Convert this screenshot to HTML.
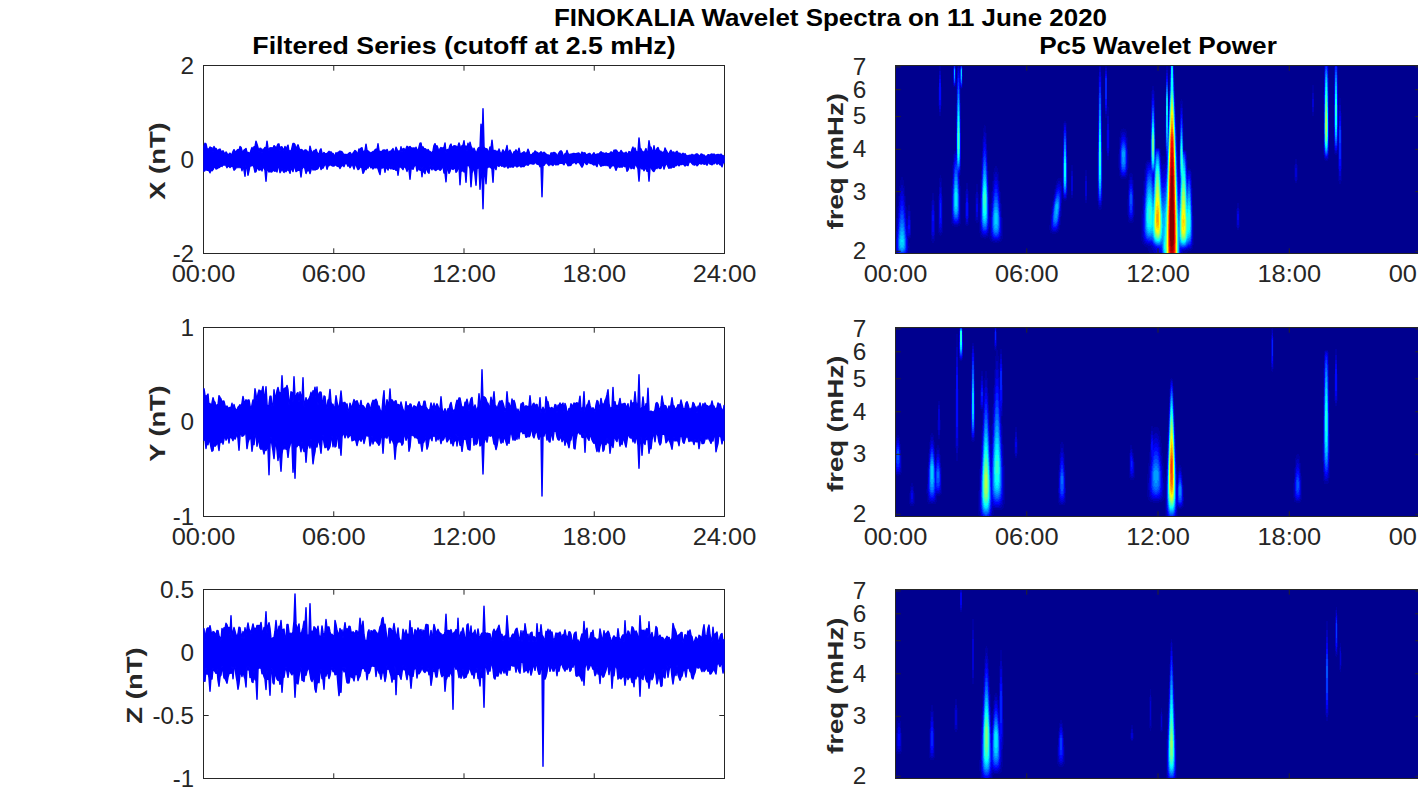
<!DOCTYPE html>
<html><head><meta charset="utf-8"><title>FINOKALIA Wavelet Spectra</title>
<style>html,body{margin:0;padding:0;background:#fff;overflow:hidden;}svg{display:block;font-family:"Liberation Sans",sans-serif;}</style>
</head><body>
<svg width="1418" height="788" viewBox="0 0 1418 788">
<rect width="1418" height="788" fill="#fff"/>
<rect x="896" y="66" width="524" height="188" fill="rgb(0, 0, 143)"/>
<path fill="#0000a1" d="M896 218h1v36h-1zM897 207h1v47h-1zM898 196h1v58h-1zM899 186h1v68h-1zM900 180h1v74h-1zM901 177h1v77h-1zM902 177h1v77h-1zM903 180h1v74h-1zM904 186h1v68h-1zM905 196h1v58h-1zM906 207h1v47h-1zM907 210h1v44h-1zM908 205h1v49h-1zM909 205h1v34h-1zM909 243h1v10h-1zM910 211h1v27h-1zM931 201h1v40h-1zM932 193h1v50h-1zM933 193h1v50h-1zM934 201h1v40h-1zM938 87h1v19h-1zM938 196h1v37h-1zM939 66h1v50h-1zM939 178h1v57h-1zM940 66h1v50h-1zM940 175h1v61h-1zM941 87h1v19h-1zM941 178h1v57h-1zM942 196h1v37h-1zM951 186h1v38h-1zM952 165h1v61h-1zM953 66h1v21h-1zM953 154h1v72h-1zM954 66h1v21h-1zM954 151h1v76h-1zM955 66h1v21h-1zM955 151h1v76h-1zM956 79h1v148h-1zM957 66h1v161h-1zM958 66h1v160h-1zM959 66h1v160h-1zM960 66h1v109h-1zM960 186h1v38h-1zM961 66h1v23h-1zM962 66h1v22h-1zM965 191h1v34h-1zM966 183h1v43h-1zM967 183h1v43h-1zM968 191h1v34h-1zM975 194h1v27h-1zM976 184h1v39h-1zM977 184h1v39h-1zM978 194h1v28h-1zM979 203h1v30h-1zM980 179h1v58h-1zM981 158h1v80h-1zM982 139h1v99h-1zM983 128h1v110h-1zM984 125h1v114h-1zM985 126h1v113h-1zM986 133h1v105h-1zM987 150h1v88h-1zM988 171h1v66h-1zM989 192h1v47h-1zM990 204h1v37h-1zM991 192h1v50h-1zM992 181h1v61h-1zM993 172h1v71h-1zM994 168h1v75h-1zM995 166h1v77h-1zM996 166h1v77h-1zM997 168h1v75h-1zM998 172h1v71h-1zM999 181h1v61h-1zM1000 192h1v50h-1zM1001 204h1v37h-1zM1002 218h1v21h-1zM1049 225h1v5h-1zM1050 215h1v18h-1zM1051 207h1v26h-1zM1052 201h1v33h-1zM1053 195h1v39h-1zM1054 189h1v45h-1zM1055 185h1v49h-1zM1056 181h1v52h-1zM1057 179h1v54h-1zM1058 178h1v54h-1zM1059 178h1v52h-1zM1060 178h1v47h-1zM1061 178h1v38h-1zM1062 156h1v43h-1zM1063 123h1v77h-1zM1064 121h1v80h-1zM1065 121h1v80h-1zM1066 123h1v77h-1zM1067 156h1v39h-1zM1071 165h1v33h-1zM1072 165h1v33h-1zM1085 170h1v33h-1zM1086 170h1v33h-1zM1097 149h1v52h-1zM1098 76h1v133h-1zM1099 66h1v144h-1zM1100 66h1v144h-1zM1101 76h1v133h-1zM1102 149h1v52h-1zM1105 66h1v52h-1zM1106 66h1v52h-1zM1106 130h1v21h-1zM1107 106h1v54h-1zM1108 107h1v53h-1zM1109 130h1v21h-1zM1118 154h1v14h-1zM1119 137h1v39h-1zM1120 131h1v47h-1zM1121 129h1v50h-1zM1122 129h1v50h-1zM1123 128h1v51h-1zM1124 129h1v50h-1zM1125 129h1v50h-1zM1126 131h1v47h-1zM1127 137h1v39h-1zM1127 199h1v16h-1zM1128 154h1v14h-1zM1128 180h1v42h-1zM1129 174h1v49h-1zM1130 173h1v50h-1zM1131 173h1v50h-1zM1132 174h1v49h-1zM1133 180h1v42h-1zM1134 199h1v16h-1zM1141 211h1v30h-1zM1142 195h1v49h-1zM1143 181h1v64h-1zM1144 169h1v77h-1zM1145 163h1v84h-1zM1146 161h1v86h-1zM1147 160h1v88h-1zM1148 160h1v91h-1zM1149 160h1v94h-1zM1150 120h1v134h-1zM1151 91h1v163h-1zM1152 86h1v168h-1zM1153 86h1v168h-1zM1154 91h1v163h-1zM1155 120h1v134h-1zM1156 148h1v106h-1zM1157 148h1v106h-1zM1158 148h1v106h-1zM1159 148h1v106h-1zM1160 149h1v105h-1zM1161 155h1v99h-1zM1162 156h1v98h-1zM1163 156h1v98h-1zM1164 156h1v98h-1zM1165 92h1v162h-1zM1166 66h1v188h-1zM1167 66h1v188h-1zM1168 91h1v163h-1zM1169 75h1v179h-1zM1170 66h1v188h-1zM1171 66h1v188h-1zM1172 66h1v188h-1zM1173 66h1v188h-1zM1174 75h1v179h-1zM1175 97h1v157h-1zM1176 117h1v137h-1zM1177 137h1v117h-1zM1178 156h1v98h-1zM1179 123h1v131h-1zM1180 101h1v153h-1zM1181 99h1v155h-1zM1182 101h1v153h-1zM1183 123h1v131h-1zM1184 150h1v104h-1zM1185 150h1v104h-1zM1186 151h1v103h-1zM1187 160h1v92h-1zM1188 168h1v83h-1zM1189 168h1v83h-1zM1190 169h1v82h-1zM1191 172h1v78h-1zM1192 188h1v61h-1zM1193 216h1v29h-1zM1236 209h1v18h-1zM1237 203h1v27h-1zM1238 203h1v27h-1zM1239 209h1v18h-1zM1294 165h1v15h-1zM1295 159h1v24h-1zM1296 159h1v24h-1zM1297 165h1v15h-1zM1312 85h1v31h-1zM1313 85h1v31h-1zM1323 92h1v63h-1zM1324 66h1v94h-1zM1325 66h1v95h-1zM1326 66h1v95h-1zM1327 66h1v95h-1zM1328 66h1v93h-1zM1334 66h1v88h-1zM1335 66h1v89h-1zM1336 66h1v89h-1zM1337 66h1v88h-1zM1338 110h1v71h-1zM1339 98h1v86h-1zM1340 98h1v86h-1zM1341 113h1v68h-1z"/>
<path fill="#0000ba" d="M896 231h1v23h-1zM897 218h1v36h-1zM898 206h1v48h-1zM899 196h1v58h-1zM900 188h1v66h-1zM901 185h1v69h-1zM902 185h1v69h-1zM903 188h1v66h-1zM904 196h1v58h-1zM905 206h1v48h-1zM906 218h1v36h-1zM907 219h1v35h-1zM908 211h1v27h-1zM908 246h1v2h-1zM909 211h1v26h-1zM910 220h1v15h-1zM931 211h1v24h-1zM932 200h1v39h-1zM933 200h1v39h-1zM934 211h1v24h-1zM939 71h1v41h-1zM939 187h1v45h-1zM940 71h1v41h-1zM940 182h1v51h-1zM941 187h1v45h-1zM952 179h1v44h-1zM953 66h1v19h-1zM953 162h1v62h-1zM954 66h1v20h-1zM954 154h1v71h-1zM955 66h1v19h-1zM955 153h1v72h-1zM956 103h1v122h-1zM957 68h1v157h-1zM958 66h1v158h-1zM959 68h1v108h-1zM959 179h1v44h-1zM960 66h1v22h-1zM960 103h1v67h-1zM961 66h1v22h-1zM962 68h1v16h-1zM965 203h1v15h-1zM966 189h1v35h-1zM967 189h1v35h-1zM968 203h1v15h-1zM976 192h1v28h-1zM977 192h1v28h-1zM980 194h1v37h-1zM981 171h1v64h-1zM982 151h1v85h-1zM983 136h1v101h-1zM984 132h1v105h-1zM985 133h1v104h-1zM986 144h1v92h-1zM987 163h1v73h-1zM988 185h1v48h-1zM989 216h1v11h-1zM990 217h1v19h-1zM991 203h1v36h-1zM992 191h1v50h-1zM993 181h1v60h-1zM994 174h1v67h-1zM995 172h1v70h-1zM996 172h1v70h-1zM997 174h1v67h-1zM998 181h1v60h-1zM999 191h1v50h-1zM1000 203h1v36h-1zM1001 217h1v19h-1zM1051 214h1v17h-1zM1052 206h1v26h-1zM1053 200h1v32h-1zM1054 194h1v38h-1zM1055 189h1v43h-1zM1056 185h1v47h-1zM1057 183h1v48h-1zM1058 181h1v48h-1zM1059 181h1v44h-1zM1060 182h1v35h-1zM1061 186h1v17h-1zM1063 131h1v67h-1zM1064 123h1v76h-1zM1065 123h1v76h-1zM1066 131h1v67h-1zM1071 171h1v24h-1zM1072 171h1v24h-1zM1085 176h1v24h-1zM1086 176h1v24h-1zM1098 95h1v110h-1zM1099 67h1v140h-1zM1100 67h1v140h-1zM1101 95h1v110h-1zM1105 68h1v46h-1zM1106 68h1v46h-1zM1107 116h1v40h-1zM1108 116h1v40h-1zM1119 149h1v21h-1zM1120 138h1v37h-1zM1121 133h1v44h-1zM1122 132h1v45h-1zM1123 132h1v45h-1zM1124 132h1v45h-1zM1125 133h1v44h-1zM1126 138h1v37h-1zM1127 149h1v21h-1zM1128 190h1v27h-1zM1129 180h1v40h-1zM1130 177h1v44h-1zM1131 177h1v44h-1zM1132 180h1v40h-1zM1133 190h1v27h-1zM1142 214h1v23h-1zM1143 196h1v46h-1zM1144 181h1v63h-1zM1145 170h1v74h-1zM1146 164h1v81h-1zM1147 162h1v83h-1zM1148 162h1v84h-1zM1149 162h1v84h-1zM1150 139h1v107h-1zM1151 100h1v148h-1zM1152 90h1v160h-1zM1153 90h1v162h-1zM1154 100h1v154h-1zM1155 139h1v115h-1zM1156 148h1v106h-1zM1157 148h1v106h-1zM1158 148h1v106h-1zM1159 149h1v105h-1zM1160 153h1v101h-1zM1161 163h1v91h-1zM1162 165h1v89h-1zM1163 164h1v90h-1zM1164 164h1v90h-1zM1165 116h1v31h-1zM1165 162h1v92h-1zM1166 70h1v184h-1zM1167 70h1v184h-1zM1168 104h1v150h-1zM1169 85h1v169h-1zM1170 66h1v188h-1zM1171 66h1v188h-1zM1172 66h1v188h-1zM1173 66h1v188h-1zM1174 85h1v169h-1zM1175 107h1v147h-1zM1176 129h1v125h-1zM1177 151h1v103h-1zM1178 169h1v85h-1zM1179 141h1v113h-1zM1180 108h1v146h-1zM1181 104h1v150h-1zM1182 108h1v145h-1zM1183 141h1v110h-1zM1184 150h1v101h-1zM1185 151h1v99h-1zM1186 155h1v95h-1zM1187 169h1v81h-1zM1188 170h1v80h-1zM1189 170h1v79h-1zM1190 171h1v78h-1zM1191 180h1v68h-1zM1192 205h1v40h-1zM1237 208h1v20h-1zM1238 208h1v20h-1zM1295 164h1v17h-1zM1296 164h1v17h-1zM1312 93h1v19h-1zM1313 93h1v19h-1zM1324 66h1v92h-1zM1325 66h1v93h-1zM1326 66h1v94h-1zM1327 66h1v93h-1zM1328 78h1v77h-1zM1334 67h1v83h-1zM1335 66h1v87h-1zM1336 66h1v87h-1zM1337 67h1v83h-1zM1338 129h1v40h-1zM1339 105h1v75h-1zM1340 105h1v75h-1zM1341 130h1v39h-1z"/>
<path fill="#0000d3" d="M896 239h1v12h-1zM897 226h1v28h-1zM898 213h1v41h-1zM899 202h1v52h-1zM900 194h1v60h-1zM901 191h1v63h-1zM902 191h1v63h-1zM903 194h1v60h-1zM904 202h1v52h-1zM905 213h1v41h-1zM906 226h1v28h-1zM907 226h1v10h-1zM907 239h1v12h-1zM908 216h1v20h-1zM909 216h1v19h-1zM932 205h1v31h-1zM933 205h1v31h-1zM939 75h1v34h-1zM939 194h1v34h-1zM940 75h1v34h-1zM940 188h1v42h-1zM941 194h1v34h-1zM952 188h1v31h-1zM953 68h1v15h-1zM953 168h1v55h-1zM954 66h1v20h-1zM954 158h1v66h-1zM955 68h1v15h-1zM955 155h1v69h-1zM956 119h1v105h-1zM957 73h1v151h-1zM958 68h1v155h-1zM959 73h1v100h-1zM959 188h1v31h-1zM960 66h1v20h-1zM960 119h1v47h-1zM961 66h1v21h-1zM962 75h1v2h-1zM966 194h1v28h-1zM967 194h1v28h-1zM976 198h1v19h-1zM977 198h1v19h-1zM980 208h1v16h-1zM981 180h1v52h-1zM982 158h1v76h-1zM983 142h1v93h-1zM984 137h1v98h-1zM985 139h1v96h-1zM986 151h1v84h-1zM987 171h1v62h-1zM988 194h1v35h-1zM991 211h1v25h-1zM992 198h1v41h-1zM993 187h1v53h-1zM994 180h1v60h-1zM995 177h1v63h-1zM996 177h1v63h-1zM997 180h1v60h-1zM998 187h1v53h-1zM999 198h1v41h-1zM1000 211h1v25h-1zM1051 219h1v9h-1zM1052 209h1v21h-1zM1053 202h1v29h-1zM1054 197h1v34h-1zM1055 192h1v39h-1zM1056 188h1v42h-1zM1057 185h1v44h-1zM1058 184h1v42h-1zM1059 184h1v37h-1zM1060 186h1v25h-1zM1063 138h1v57h-1zM1064 125h1v73h-1zM1065 125h1v73h-1zM1066 138h1v57h-1zM1071 176h1v15h-1zM1072 176h1v15h-1zM1085 181h1v15h-1zM1086 181h1v15h-1zM1098 110h1v91h-1zM1099 72h1v133h-1zM1100 72h1v133h-1zM1101 110h1v91h-1zM1105 71h1v40h-1zM1106 71h1v40h-1zM1107 124h1v29h-1zM1108 124h1v29h-1zM1120 143h1v29h-1zM1121 137h1v38h-1zM1122 135h1v41h-1zM1123 134h1v42h-1zM1124 135h1v41h-1zM1125 137h1v38h-1zM1126 143h1v29h-1zM1129 184h1v34h-1zM1130 180h1v39h-1zM1131 180h1v39h-1zM1132 184h1v34h-1zM1143 206h1v32h-1zM1144 190h1v51h-1zM1145 177h1v66h-1zM1146 168h1v75h-1zM1147 165h1v79h-1zM1148 164h1v80h-1zM1149 163h1v81h-1zM1150 162h1v83h-1zM1151 107h1v138h-1zM1152 94h1v152h-1zM1153 94h1v154h-1zM1154 107h1v142h-1zM1155 149h1v101h-1zM1156 149h1v103h-1zM1157 149h1v104h-1zM1158 149h1v105h-1zM1159 150h1v104h-1zM1160 157h1v97h-1zM1161 169h1v85h-1zM1162 172h1v82h-1zM1163 171h1v83h-1zM1164 170h1v84h-1zM1165 168h1v86h-1zM1166 73h1v181h-1zM1167 73h1v181h-1zM1168 111h1v143h-1zM1169 91h1v163h-1zM1170 66h1v188h-1zM1171 66h1v188h-1zM1172 66h1v188h-1zM1173 66h1v188h-1zM1174 91h1v163h-1zM1175 114h1v140h-1zM1176 136h1v118h-1zM1177 160h1v94h-1zM1178 177h1v77h-1zM1179 156h1v98h-1zM1180 114h1v140h-1zM1181 108h1v144h-1zM1182 114h1v136h-1zM1183 150h1v100h-1zM1184 151h1v99h-1zM1185 152h1v98h-1zM1186 161h1v88h-1zM1187 173h1v76h-1zM1188 171h1v77h-1zM1189 171h1v77h-1zM1190 174h1v74h-1zM1191 188h1v58h-1zM1192 216h1v23h-1zM1237 211h1v14h-1zM1238 211h1v14h-1zM1295 168h1v9h-1zM1296 168h1v9h-1zM1312 99h1v8h-1zM1313 99h1v8h-1zM1324 72h1v83h-1zM1325 66h1v92h-1zM1326 66h1v92h-1zM1327 66h1v92h-1zM1328 93h1v58h-1zM1334 75h1v71h-1zM1335 66h1v85h-1zM1336 66h1v85h-1zM1337 75h1v71h-1zM1339 111h1v65h-1zM1340 111h1v65h-1z"/>
<path fill="#0000ec" d="M897 232h1v20h-1zM898 219h1v35h-1zM899 208h1v46h-1zM900 200h1v54h-1zM901 196h1v58h-1zM902 196h1v58h-1zM903 200h1v54h-1zM904 208h1v46h-1zM905 219h1v35h-1zM906 232h1v20h-1zM908 220h1v13h-1zM909 220h1v13h-1zM932 210h1v22h-1zM933 210h1v22h-1zM939 79h1v26h-1zM939 200h1v24h-1zM940 79h1v26h-1zM940 193h1v34h-1zM941 200h1v24h-1zM952 196h1v19h-1zM953 69h1v11h-1zM953 174h1v47h-1zM954 66h1v19h-1zM954 162h1v61h-1zM955 69h1v11h-1zM955 158h1v65h-1zM956 133h1v90h-1zM957 78h1v145h-1zM958 71h1v150h-1zM959 78h1v94h-1zM959 196h1v19h-1zM960 67h1v18h-1zM960 133h1v26h-1zM961 66h1v21h-1zM966 198h1v21h-1zM967 198h1v21h-1zM976 204h1v8h-1zM977 204h1v8h-1zM981 186h1v44h-1zM982 164h1v69h-1zM983 148h1v86h-1zM984 142h1v92h-1zM985 144h1v90h-1zM986 157h1v76h-1zM987 177h1v54h-1zM988 204h1v20h-1zM991 217h1v16h-1zM992 203h1v34h-1zM993 192h1v46h-1zM994 184h1v55h-1zM995 181h1v58h-1zM996 181h1v58h-1zM997 184h1v55h-1zM998 192h1v46h-1zM999 203h1v34h-1zM1000 217h1v16h-1zM1052 213h1v16h-1zM1053 205h1v25h-1zM1054 199h1v31h-1zM1055 194h1v36h-1zM1056 190h1v39h-1zM1057 188h1v39h-1zM1058 187h1v37h-1zM1059 187h1v30h-1zM1060 191h1v15h-1zM1063 145h1v48h-1zM1064 127h1v70h-1zM1065 127h1v70h-1zM1066 145h1v48h-1zM1098 121h1v77h-1zM1099 77h1v126h-1zM1100 77h1v126h-1zM1101 121h1v77h-1zM1105 74h1v34h-1zM1106 74h1v34h-1zM1107 130h1v18h-1zM1108 130h1v18h-1zM1120 147h1v22h-1zM1121 140h1v33h-1zM1122 137h1v38h-1zM1123 137h1v38h-1zM1124 137h1v38h-1zM1125 140h1v33h-1zM1126 147h1v22h-1zM1129 188h1v27h-1zM1130 184h1v33h-1zM1131 184h1v33h-1zM1132 188h1v27h-1zM1143 218h1v13h-1zM1144 197h1v42h-1zM1145 183h1v58h-1zM1146 173h1v69h-1zM1147 168h1v75h-1zM1148 166h1v77h-1zM1149 165h1v78h-1zM1150 165h1v78h-1zM1151 113h1v131h-1zM1152 98h1v147h-1zM1153 98h1v148h-1zM1154 113h1v134h-1zM1155 150h1v98h-1zM1156 149h1v100h-1zM1157 149h1v100h-1zM1158 149h1v102h-1zM1159 151h1v101h-1zM1160 161h1v91h-1zM1161 174h1v80h-1zM1162 178h1v76h-1zM1163 177h1v77h-1zM1164 176h1v78h-1zM1165 174h1v80h-1zM1166 76h1v81h-1zM1166 165h1v89h-1zM1167 76h1v178h-1zM1168 117h1v137h-1zM1169 96h1v158h-1zM1170 66h1v188h-1zM1171 66h1v188h-1zM1172 66h1v188h-1zM1173 66h1v188h-1zM1174 96h1v158h-1zM1175 119h1v135h-1zM1176 142h1v112h-1zM1177 167h1v87h-1zM1178 184h1v70h-1zM1179 184h1v70h-1zM1180 119h1v135h-1zM1181 111h1v139h-1zM1182 119h1v130h-1zM1183 151h1v98h-1zM1184 152h1v97h-1zM1185 154h1v95h-1zM1186 166h1v82h-1zM1187 176h1v72h-1zM1188 174h1v73h-1zM1189 174h1v73h-1zM1190 178h1v68h-1zM1191 194h1v50h-1zM1237 214h1v6h-1zM1238 214h1v6h-1zM1324 79h1v74h-1zM1325 66h1v91h-1zM1326 66h1v91h-1zM1327 66h1v90h-1zM1328 108h1v39h-1zM1334 84h1v57h-1zM1335 66h1v84h-1zM1336 66h1v84h-1zM1337 84h1v57h-1zM1339 116h1v55h-1zM1340 116h1v55h-1z"/>
<path fill="#0006ff" d="M897 237h1v13h-1zM898 224h1v29h-1zM899 213h1v41h-1zM900 205h1v49h-1zM901 201h1v53h-1zM902 201h1v53h-1zM903 205h1v49h-1zM904 213h1v41h-1zM905 224h1v29h-1zM906 237h1v13h-1zM908 225h1v4h-1zM909 225h1v4h-1zM932 215h1v6h-1zM933 215h1v6h-1zM939 83h1v17h-1zM940 83h1v17h-1zM940 198h1v25h-1zM953 179h1v40h-1zM954 66h1v18h-1zM954 165h1v56h-1zM955 161h1v61h-1zM956 155h1v67h-1zM957 83h1v138h-1zM958 75h1v98h-1zM958 179h1v40h-1zM959 83h1v87h-1zM960 68h1v15h-1zM961 66h1v20h-1zM966 202h1v14h-1zM967 202h1v14h-1zM981 192h1v34h-1zM982 169h1v62h-1zM983 153h1v79h-1zM984 147h1v86h-1zM985 149h1v84h-1zM986 162h1v70h-1zM987 182h1v47h-1zM992 208h1v27h-1zM993 196h1v41h-1zM994 189h1v49h-1zM995 185h1v53h-1zM996 185h1v53h-1zM997 189h1v49h-1zM998 196h1v41h-1zM999 208h1v27h-1zM1052 216h1v10h-1zM1053 207h1v21h-1zM1054 201h1v27h-1zM1055 196h1v32h-1zM1056 192h1v36h-1zM1057 190h1v36h-1zM1058 189h1v33h-1zM1059 190h1v24h-1zM1063 151h1v40h-1zM1064 130h1v65h-1zM1065 130h1v65h-1zM1066 151h1v40h-1zM1098 132h1v62h-1zM1099 82h1v119h-1zM1100 82h1v119h-1zM1101 132h1v62h-1zM1105 76h1v29h-1zM1106 76h1v29h-1zM1120 151h1v12h-1zM1121 143h1v29h-1zM1122 140h1v33h-1zM1123 139h1v35h-1zM1124 140h1v33h-1zM1125 143h1v29h-1zM1126 151h1v12h-1zM1129 191h1v21h-1zM1130 186h1v29h-1zM1131 186h1v29h-1zM1132 191h1v21h-1zM1144 204h1v32h-1zM1145 188h1v51h-1zM1146 177h1v64h-1zM1147 171h1v70h-1zM1148 168h1v74h-1zM1149 168h1v74h-1zM1150 168h1v74h-1zM1151 119h1v123h-1zM1152 101h1v142h-1zM1153 101h1v73h-1zM1153 180h1v65h-1zM1154 119h1v127h-1zM1155 152h1v95h-1zM1156 150h1v97h-1zM1157 150h1v98h-1zM1158 150h1v98h-1zM1159 153h1v96h-1zM1160 165h1v85h-1zM1161 178h1v74h-1zM1162 183h1v71h-1zM1163 183h1v71h-1zM1164 182h1v72h-1zM1165 179h1v75h-1zM1166 79h1v75h-1zM1166 169h1v85h-1zM1167 79h1v175h-1zM1168 122h1v132h-1zM1169 99h1v155h-1zM1170 70h1v184h-1zM1171 66h1v188h-1zM1172 66h1v188h-1zM1173 70h1v184h-1zM1174 99h1v155h-1zM1175 123h1v131h-1zM1176 147h1v107h-1zM1177 172h1v82h-1zM1178 190h1v64h-1zM1179 189h1v65h-1zM1180 124h1v126h-1zM1181 115h1v134h-1zM1182 124h1v125h-1zM1183 152h1v97h-1zM1184 153h1v95h-1zM1185 156h1v92h-1zM1186 171h1v77h-1zM1187 179h1v68h-1zM1188 176h1v70h-1zM1189 176h1v70h-1zM1190 181h1v64h-1zM1191 200h1v42h-1zM1324 87h1v64h-1zM1325 66h1v90h-1zM1326 66h1v90h-1zM1327 68h1v87h-1zM1328 122h1v17h-1zM1334 94h1v42h-1zM1335 66h1v82h-1zM1336 66h1v82h-1zM1337 94h1v42h-1zM1339 121h1v45h-1zM1340 121h1v45h-1z"/>
<path fill="#001fff" d="M898 229h1v23h-1zM899 218h1v35h-1zM900 210h1v44h-1zM901 206h1v48h-1zM902 206h1v48h-1zM903 210h1v44h-1zM904 218h1v35h-1zM905 229h1v23h-1zM940 203h1v15h-1zM953 184h1v33h-1zM954 66h1v17h-1zM954 169h1v51h-1zM955 164h1v57h-1zM956 160h1v61h-1zM957 89h1v131h-1zM958 78h1v93h-1zM958 184h1v33h-1zM959 89h1v80h-1zM960 69h1v13h-1zM961 66h1v19h-1zM981 198h1v24h-1zM982 174h1v55h-1zM983 157h1v74h-1zM984 151h1v80h-1zM985 154h1v77h-1zM986 166h1v64h-1zM987 187h1v39h-1zM992 212h1v20h-1zM993 201h1v35h-1zM994 193h1v44h-1zM995 189h1v48h-1zM996 189h1v48h-1zM997 193h1v44h-1zM998 201h1v35h-1zM999 212h1v20h-1zM1053 209h1v18h-1zM1054 202h1v25h-1zM1055 198h1v29h-1zM1056 194h1v32h-1zM1057 192h1v32h-1zM1058 191h1v28h-1zM1059 193h1v18h-1zM1063 157h1v31h-1zM1064 133h1v61h-1zM1065 133h1v61h-1zM1066 157h1v31h-1zM1098 142h1v46h-1zM1099 87h1v113h-1zM1100 87h1v113h-1zM1101 142h1v46h-1zM1105 78h1v21h-1zM1106 78h1v21h-1zM1121 145h1v25h-1zM1122 142h1v30h-1zM1123 141h1v31h-1zM1124 142h1v30h-1zM1125 145h1v25h-1zM1129 195h1v11h-1zM1130 189h1v24h-1zM1131 189h1v24h-1zM1132 195h1v11h-1zM1144 210h1v22h-1zM1145 193h1v44h-1zM1146 181h1v58h-1zM1147 174h1v66h-1zM1148 171h1v70h-1zM1149 170h1v71h-1zM1150 170h1v71h-1zM1151 123h1v118h-1zM1152 105h1v68h-1zM1152 181h1v61h-1zM1153 105h1v67h-1zM1153 183h1v61h-1zM1154 123h1v122h-1zM1155 155h1v91h-1zM1156 151h1v95h-1zM1157 151h1v96h-1zM1158 151h1v96h-1zM1159 156h1v91h-1zM1160 169h1v79h-1zM1161 183h1v67h-1zM1162 188h1v66h-1zM1163 188h1v66h-1zM1164 187h1v67h-1zM1165 184h1v70h-1zM1166 82h1v69h-1zM1166 174h1v80h-1zM1167 82h1v172h-1zM1168 126h1v128h-1zM1169 102h1v152h-1zM1170 74h1v180h-1zM1171 66h1v188h-1zM1172 66h1v188h-1zM1173 74h1v180h-1zM1174 102h1v152h-1zM1175 127h1v127h-1zM1176 152h1v102h-1zM1177 177h1v77h-1zM1178 196h1v58h-1zM1179 194h1v60h-1zM1180 128h1v120h-1zM1181 118h1v130h-1zM1182 128h1v120h-1zM1183 152h1v96h-1zM1184 154h1v94h-1zM1185 159h1v88h-1zM1186 175h1v72h-1zM1187 183h1v63h-1zM1188 179h1v66h-1zM1189 179h1v66h-1zM1190 185h1v59h-1zM1191 206h1v33h-1zM1324 95h1v53h-1zM1325 67h1v88h-1zM1326 66h1v90h-1zM1327 71h1v83h-1zM1334 105h1v22h-1zM1335 67h1v79h-1zM1336 67h1v79h-1zM1337 105h1v22h-1zM1339 126h1v33h-1zM1340 126h1v33h-1z"/>
<path fill="#0038ff" d="M898 234h1v16h-1zM899 222h1v30h-1zM900 214h1v39h-1zM901 211h1v42h-1zM902 211h1v42h-1zM903 214h1v39h-1zM904 222h1v30h-1zM905 234h1v16h-1zM953 189h1v25h-1zM954 67h1v16h-1zM954 173h1v46h-1zM955 167h1v52h-1zM956 165h1v54h-1zM957 94h1v125h-1zM958 82h1v88h-1zM958 189h1v25h-1zM959 94h1v73h-1zM960 70h1v9h-1zM961 67h1v17h-1zM982 179h1v48h-1zM983 162h1v68h-1zM984 156h1v74h-1zM985 158h1v72h-1zM986 171h1v58h-1zM987 192h1v31h-1zM992 217h1v11h-1zM993 204h1v30h-1zM994 196h1v39h-1zM995 193h1v43h-1zM996 193h1v43h-1zM997 196h1v39h-1zM998 204h1v30h-1zM999 217h1v11h-1zM1053 212h1v13h-1zM1054 204h1v22h-1zM1055 199h1v27h-1zM1056 196h1v29h-1zM1057 194h1v28h-1zM1058 194h1v23h-1zM1059 197h1v11h-1zM1063 163h1v20h-1zM1064 136h1v57h-1zM1065 136h1v57h-1zM1066 163h1v20h-1zM1098 152h1v29h-1zM1099 93h1v105h-1zM1100 93h1v105h-1zM1101 152h1v29h-1zM1121 148h1v19h-1zM1122 144h1v26h-1zM1123 143h1v28h-1zM1124 144h1v26h-1zM1125 148h1v19h-1zM1130 192h1v18h-1zM1131 192h1v18h-1zM1145 198h1v37h-1zM1146 185h1v53h-1zM1147 177h1v62h-1zM1148 174h1v65h-1zM1149 173h1v67h-1zM1150 174h1v66h-1zM1151 128h1v40h-1zM1151 177h1v63h-1zM1152 108h1v63h-1zM1152 185h1v56h-1zM1153 108h1v63h-1zM1153 187h1v56h-1zM1154 128h1v116h-1zM1155 157h1v88h-1zM1156 152h1v94h-1zM1157 152h1v94h-1zM1158 152h1v94h-1zM1159 158h1v88h-1zM1160 172h1v74h-1zM1161 187h1v60h-1zM1162 193h1v61h-1zM1163 193h1v61h-1zM1164 192h1v62h-1zM1165 188h1v66h-1zM1166 85h1v64h-1zM1166 178h1v76h-1zM1167 85h1v169h-1zM1168 129h1v125h-1zM1169 106h1v148h-1zM1170 78h1v176h-1zM1171 66h1v188h-1zM1172 66h1v188h-1zM1173 78h1v176h-1zM1174 106h1v148h-1zM1175 130h1v124h-1zM1176 157h1v97h-1zM1177 182h1v72h-1zM1178 201h1v53h-1zM1179 199h1v55h-1zM1180 132h1v115h-1zM1181 121h1v126h-1zM1182 132h1v115h-1zM1183 154h1v93h-1zM1184 155h1v92h-1zM1185 162h1v85h-1zM1186 179h1v67h-1zM1187 186h1v59h-1zM1188 181h1v63h-1zM1189 181h1v63h-1zM1190 189h1v53h-1zM1191 212h1v24h-1zM1324 104h1v41h-1zM1325 69h1v85h-1zM1326 67h1v88h-1zM1327 74h1v79h-1zM1335 70h1v75h-1zM1336 70h1v75h-1zM1339 130h1v13h-1zM1340 130h1v13h-1z"/>
<path fill="#0051ff" d="M898 238h1v10h-1zM899 227h1v24h-1zM900 219h1v33h-1zM901 215h1v37h-1zM902 215h1v37h-1zM903 219h1v33h-1zM904 227h1v24h-1zM905 238h1v10h-1zM953 194h1v17h-1zM954 68h1v14h-1zM954 177h1v40h-1zM955 170h1v48h-1zM956 170h1v48h-1zM957 100h1v69h-1zM957 177h1v40h-1zM958 86h1v82h-1zM958 194h1v17h-1zM959 100h1v66h-1zM961 67h1v16h-1zM982 183h1v42h-1zM983 166h1v62h-1zM984 160h1v69h-1zM985 162h1v67h-1zM986 175h1v52h-1zM987 197h1v22h-1zM993 208h1v24h-1zM994 200h1v34h-1zM995 197h1v38h-1zM996 197h1v38h-1zM997 200h1v34h-1zM998 208h1v24h-1zM1053 215h1v7h-1zM1054 206h1v18h-1zM1055 201h1v23h-1zM1056 198h1v25h-1zM1057 196h1v25h-1zM1058 196h1v19h-1zM1064 139h1v53h-1zM1065 139h1v53h-1zM1099 98h1v98h-1zM1100 98h1v98h-1zM1121 150h1v14h-1zM1122 146h1v23h-1zM1123 145h1v24h-1zM1124 146h1v23h-1zM1125 150h1v14h-1zM1130 194h1v10h-1zM1131 194h1v10h-1zM1145 203h1v30h-1zM1146 189h1v47h-1zM1147 181h1v57h-1zM1148 177h1v61h-1zM1149 176h1v62h-1zM1150 177h1v62h-1zM1151 132h1v33h-1zM1151 181h1v58h-1zM1152 111h1v59h-1zM1152 188h1v52h-1zM1153 111h1v59h-1zM1153 191h1v51h-1zM1154 132h1v36h-1zM1154 177h1v66h-1zM1155 160h1v84h-1zM1156 154h1v91h-1zM1157 153h1v92h-1zM1158 154h1v91h-1zM1159 160h1v85h-1zM1160 175h1v70h-1zM1161 191h1v54h-1zM1162 198h1v53h-1zM1163 198h1v56h-1zM1164 196h1v58h-1zM1165 192h1v62h-1zM1166 87h1v59h-1zM1166 182h1v72h-1zM1167 87h1v64h-1zM1167 160h1v94h-1zM1168 133h1v121h-1zM1169 109h1v145h-1zM1170 82h1v172h-1zM1171 66h1v188h-1zM1172 66h1v188h-1zM1173 82h1v172h-1zM1174 109h1v145h-1zM1175 133h1v121h-1zM1176 161h1v93h-1zM1177 187h1v67h-1zM1178 206h1v48h-1zM1179 203h1v45h-1zM1180 136h1v42h-1zM1180 183h1v63h-1zM1181 125h1v121h-1zM1182 136h1v111h-1zM1183 155h1v92h-1zM1184 157h1v89h-1zM1185 165h1v81h-1zM1186 183h1v62h-1zM1187 189h1v55h-1zM1188 184h1v59h-1zM1189 184h1v58h-1zM1190 193h1v48h-1zM1191 220h1v10h-1zM1324 112h1v30h-1zM1325 71h1v82h-1zM1326 69h1v85h-1zM1327 78h1v73h-1zM1335 72h1v71h-1zM1336 72h1v71h-1z"/>
<path fill="#006aff" d="M899 231h1v19h-1zM900 223h1v28h-1zM901 220h1v32h-1zM902 220h1v32h-1zM903 223h1v28h-1zM904 231h1v19h-1zM954 68h1v13h-1zM954 181h1v34h-1zM955 174h1v43h-1zM956 174h1v43h-1zM957 105h1v61h-1zM957 181h1v34h-1zM958 90h1v77h-1zM959 105h1v59h-1zM961 68h1v15h-1zM982 187h1v36h-1zM983 170h1v57h-1zM984 164h1v63h-1zM985 166h1v61h-1zM986 179h1v46h-1zM993 211h1v19h-1zM994 203h1v30h-1zM995 200h1v33h-1zM996 200h1v33h-1zM997 203h1v30h-1zM998 211h1v19h-1zM1054 208h1v14h-1zM1055 202h1v21h-1zM1056 199h1v23h-1zM1057 198h1v21h-1zM1058 199h1v13h-1zM1064 142h1v48h-1zM1065 142h1v48h-1zM1099 104h1v90h-1zM1100 104h1v90h-1zM1122 148h1v19h-1zM1123 147h1v20h-1zM1124 148h1v19h-1zM1145 208h1v21h-1zM1146 194h1v40h-1zM1147 184h1v52h-1zM1148 180h1v57h-1zM1149 179h1v58h-1zM1150 180h1v57h-1zM1151 135h1v26h-1zM1151 184h1v53h-1zM1152 113h1v56h-1zM1152 192h1v46h-1zM1153 113h1v56h-1zM1153 194h1v47h-1zM1154 135h1v29h-1zM1154 180h1v63h-1zM1155 163h1v81h-1zM1156 155h1v89h-1zM1157 154h1v91h-1zM1158 155h1v90h-1zM1159 163h1v82h-1zM1160 179h1v65h-1zM1161 194h1v50h-1zM1162 202h1v46h-1zM1163 203h1v51h-1zM1164 201h1v53h-1zM1165 197h1v57h-1zM1166 89h1v54h-1zM1166 186h1v68h-1zM1167 89h1v57h-1zM1167 165h1v89h-1zM1168 136h1v118h-1zM1169 111h1v143h-1zM1170 87h1v167h-1zM1171 66h1v188h-1zM1172 66h1v188h-1zM1173 87h1v167h-1zM1174 111h1v143h-1zM1175 136h1v118h-1zM1176 165h1v89h-1zM1177 192h1v62h-1zM1178 210h1v44h-1zM1179 208h1v37h-1zM1180 139h1v36h-1zM1180 188h1v57h-1zM1181 128h1v118h-1zM1182 139h1v107h-1zM1183 157h1v89h-1zM1184 159h1v87h-1zM1185 168h1v77h-1zM1186 187h1v57h-1zM1187 193h1v50h-1zM1188 187h1v55h-1zM1189 188h1v53h-1zM1190 197h1v42h-1zM1324 123h1v11h-1zM1325 74h1v78h-1zM1326 70h1v83h-1zM1327 82h1v68h-1zM1335 75h1v66h-1zM1336 75h1v66h-1z"/>
<path fill="#0083ff" d="M899 235h1v14h-1zM900 227h1v23h-1zM901 224h1v27h-1zM902 224h1v27h-1zM903 227h1v23h-1zM904 235h1v14h-1zM954 69h1v10h-1zM954 185h1v28h-1zM955 177h1v38h-1zM956 177h1v38h-1zM957 111h1v53h-1zM957 185h1v28h-1zM958 94h1v72h-1zM959 111h1v51h-1zM961 68h1v13h-1zM982 191h1v29h-1zM983 174h1v51h-1zM984 168h1v58h-1zM985 170h1v56h-1zM986 183h1v40h-1zM993 215h1v11h-1zM994 207h1v24h-1zM995 203h1v29h-1zM996 203h1v29h-1zM997 207h1v24h-1zM998 215h1v11h-1zM1054 211h1v9h-1zM1055 204h1v17h-1zM1056 201h1v19h-1zM1057 200h1v16h-1zM1058 202h1v7h-1zM1064 145h1v44h-1zM1065 145h1v44h-1zM1099 110h1v81h-1zM1100 110h1v81h-1zM1122 150h1v14h-1zM1123 149h1v16h-1zM1124 150h1v14h-1zM1146 198h1v34h-1zM1147 188h1v47h-1zM1148 183h1v53h-1zM1149 182h1v54h-1zM1150 183h1v53h-1zM1151 139h1v18h-1zM1151 188h1v48h-1zM1152 116h1v52h-1zM1152 196h1v41h-1zM1153 116h1v52h-1zM1153 198h1v41h-1zM1154 139h1v20h-1zM1154 184h1v58h-1zM1155 165h1v78h-1zM1156 157h1v87h-1zM1157 156h1v88h-1zM1158 157h1v87h-1zM1159 166h1v78h-1zM1160 182h1v61h-1zM1161 198h1v44h-1zM1162 206h1v38h-1zM1163 207h1v47h-1zM1164 205h1v49h-1zM1165 201h1v53h-1zM1166 92h1v48h-1zM1166 190h1v64h-1zM1167 92h1v50h-1zM1167 168h1v86h-1zM1168 139h1v115h-1zM1169 114h1v140h-1zM1170 91h1v163h-1zM1171 66h1v188h-1zM1172 66h1v188h-1zM1173 91h1v163h-1zM1174 114h1v140h-1zM1175 140h1v114h-1zM1176 169h1v85h-1zM1177 196h1v58h-1zM1178 214h1v40h-1zM1179 212h1v31h-1zM1180 143h1v29h-1zM1180 192h1v52h-1zM1181 130h1v115h-1zM1182 143h1v102h-1zM1183 158h1v87h-1zM1184 161h1v84h-1zM1185 171h1v74h-1zM1186 191h1v52h-1zM1187 196h1v46h-1zM1188 191h1v50h-1zM1189 191h1v49h-1zM1190 201h1v36h-1zM1325 77h1v74h-1zM1326 73h1v79h-1zM1327 87h1v61h-1zM1335 78h1v61h-1zM1336 78h1v61h-1z"/>
<path fill="#009dff" d="M899 239h1v7h-1zM900 231h1v18h-1zM901 228h1v22h-1zM902 228h1v22h-1zM903 231h1v18h-1zM904 239h1v7h-1zM954 69h1v9h-1zM954 189h1v22h-1zM955 181h1v33h-1zM956 181h1v33h-1zM957 116h1v45h-1zM957 189h1v22h-1zM958 98h1v66h-1zM959 116h1v44h-1zM961 69h1v11h-1zM982 194h1v22h-1zM983 177h1v46h-1zM984 171h1v53h-1zM985 174h1v50h-1zM986 186h1v35h-1zM994 210h1v19h-1zM995 207h1v23h-1zM996 207h1v23h-1zM997 210h1v19h-1zM1055 205h1v13h-1zM1056 203h1v15h-1zM1057 202h1v12h-1zM1064 149h1v38h-1zM1065 149h1v38h-1zM1099 116h1v73h-1zM1100 116h1v73h-1zM1122 152h1v5h-1zM1123 151h1v11h-1zM1124 152h1v5h-1zM1146 202h1v28h-1zM1147 192h1v41h-1zM1148 187h1v47h-1zM1149 186h1v49h-1zM1150 187h1v48h-1zM1151 192h1v42h-1zM1152 119h1v48h-1zM1152 200h1v35h-1zM1153 119h1v48h-1zM1153 201h1v37h-1zM1154 187h1v54h-1zM1155 168h1v74h-1zM1156 159h1v84h-1zM1157 157h1v86h-1zM1158 159h1v84h-1zM1159 168h1v75h-1zM1160 185h1v57h-1zM1161 201h1v40h-1zM1162 210h1v30h-1zM1163 211h1v41h-1zM1164 209h1v45h-1zM1165 204h1v50h-1zM1166 94h1v43h-1zM1166 193h1v61h-1zM1167 94h1v44h-1zM1167 172h1v82h-1zM1168 142h1v112h-1zM1169 117h1v137h-1zM1170 93h1v161h-1zM1171 66h1v188h-1zM1172 66h1v188h-1zM1173 93h1v161h-1zM1174 117h1v137h-1zM1175 143h1v111h-1zM1176 173h1v81h-1zM1177 201h1v53h-1zM1178 220h1v34h-1zM1179 216h1v25h-1zM1180 146h1v23h-1zM1180 196h1v47h-1zM1181 133h1v111h-1zM1182 146h1v99h-1zM1183 160h1v85h-1zM1184 163h1v82h-1zM1185 174h1v70h-1zM1186 195h1v47h-1zM1187 199h1v42h-1zM1188 194h1v45h-1zM1189 194h1v44h-1zM1190 205h1v30h-1zM1325 80h1v70h-1zM1326 75h1v76h-1zM1327 91h1v56h-1zM1335 82h1v55h-1zM1336 82h1v55h-1z"/>
<path fill="#00b6ff" d="M900 235h1v13h-1zM901 232h1v16h-1zM902 232h1v16h-1zM903 235h1v13h-1zM954 70h1v5h-1zM954 193h1v14h-1zM955 185h1v27h-1zM956 185h1v27h-1zM957 122h1v36h-1zM957 193h1v14h-1zM958 103h1v60h-1zM959 122h1v35h-1zM961 69h1v10h-1zM983 181h1v40h-1zM984 175h1v48h-1zM985 177h1v45h-1zM986 190h1v28h-1zM994 213h1v12h-1zM995 210h1v18h-1zM996 210h1v18h-1zM997 213h1v12h-1zM1056 204h1v10h-1zM1057 204h1v5h-1zM1064 152h1v34h-1zM1065 152h1v34h-1zM1099 123h1v63h-1zM1100 123h1v63h-1zM1146 206h1v21h-1zM1147 196h1v35h-1zM1148 190h1v43h-1zM1149 189h1v44h-1zM1150 190h1v43h-1zM1151 195h1v38h-1zM1152 122h1v43h-1zM1152 203h1v30h-1zM1153 122h1v43h-1zM1153 204h1v33h-1zM1154 190h1v50h-1zM1155 171h1v71h-1zM1156 161h1v81h-1zM1157 159h1v84h-1zM1158 161h1v82h-1zM1159 171h1v71h-1zM1160 189h1v52h-1zM1161 204h1v35h-1zM1162 213h1v23h-1zM1163 218h1v32h-1zM1164 213h1v41h-1zM1165 208h1v46h-1zM1166 96h1v37h-1zM1166 197h1v57h-1zM1167 96h1v38h-1zM1167 175h1v79h-1zM1168 146h1v108h-1zM1169 120h1v134h-1zM1170 95h1v159h-1zM1171 66h1v188h-1zM1172 66h1v188h-1zM1173 95h1v159h-1zM1174 120h1v134h-1zM1175 146h1v108h-1zM1176 177h1v77h-1zM1177 205h1v49h-1zM1178 227h1v27h-1zM1179 221h1v16h-1zM1180 149h1v15h-1zM1180 200h1v42h-1zM1181 136h1v107h-1zM1182 149h1v95h-1zM1183 163h1v81h-1zM1184 166h1v78h-1zM1185 178h1v65h-1zM1186 198h1v43h-1zM1187 203h1v36h-1zM1188 198h1v40h-1zM1189 198h1v39h-1zM1190 210h1v22h-1zM1325 83h1v65h-1zM1326 77h1v73h-1zM1327 96h1v49h-1zM1335 86h1v49h-1zM1336 86h1v49h-1z"/>
<path fill="#00cfff" d="M900 239h1v6h-1zM901 236h1v11h-1zM902 236h1v11h-1zM903 239h1v6h-1zM955 188h1v21h-1zM956 188h1v21h-1zM957 128h1v26h-1zM958 107h1v54h-1zM959 128h1v26h-1zM961 70h1v6h-1zM983 185h1v34h-1zM984 179h1v42h-1zM985 181h1v39h-1zM986 194h1v20h-1zM995 213h1v11h-1zM996 213h1v11h-1zM1064 156h1v28h-1zM1065 156h1v28h-1zM1099 129h1v54h-1zM1100 129h1v54h-1zM1146 213h1v8h-1zM1147 200h1v29h-1zM1148 194h1v37h-1zM1149 193h1v39h-1zM1150 194h1v37h-1zM1151 199h1v32h-1zM1152 124h1v40h-1zM1152 207h1v24h-1zM1153 124h1v40h-1zM1153 207h1v28h-1zM1154 194h1v45h-1zM1155 174h1v67h-1zM1156 164h1v78h-1zM1157 161h1v81h-1zM1158 164h1v78h-1zM1159 174h1v68h-1zM1160 192h1v48h-1zM1161 208h1v30h-1zM1162 224h1v4h-1zM1164 226h1v27h-1zM1165 212h1v42h-1zM1166 98h1v29h-1zM1166 200h1v54h-1zM1167 98h1v30h-1zM1167 179h1v75h-1zM1168 149h1v105h-1zM1169 122h1v132h-1zM1170 98h1v156h-1zM1171 66h1v188h-1zM1172 66h1v188h-1zM1173 98h1v156h-1zM1174 122h1v132h-1zM1175 150h1v104h-1zM1176 181h1v73h-1zM1177 209h1v45h-1zM1180 204h1v36h-1zM1181 139h1v104h-1zM1182 152h1v91h-1zM1183 165h1v79h-1zM1184 168h1v75h-1zM1185 181h1v61h-1zM1186 202h1v38h-1zM1187 206h1v32h-1zM1188 201h1v35h-1zM1189 202h1v33h-1zM1190 214h1v13h-1zM1325 87h1v60h-1zM1326 80h1v69h-1zM1327 102h1v41h-1zM1335 90h1v42h-1zM1336 90h1v42h-1z"/>
<path fill="#00e8ff" d="M901 240h1v2h-1zM902 240h1v2h-1zM955 192h1v14h-1zM956 192h1v14h-1zM957 133h1v16h-1zM958 112h1v48h-1zM959 133h1v16h-1zM983 188h1v28h-1zM984 182h1v37h-1zM985 184h1v34h-1zM1064 159h1v22h-1zM1065 159h1v22h-1zM1099 135h1v44h-1zM1100 135h1v44h-1zM1147 204h1v23h-1zM1148 198h1v31h-1zM1149 197h1v33h-1zM1150 198h1v31h-1zM1151 203h1v25h-1zM1152 127h1v36h-1zM1152 211h1v16h-1zM1153 127h1v36h-1zM1153 210h1v23h-1zM1154 197h1v41h-1zM1155 178h1v62h-1zM1156 166h1v75h-1zM1157 164h1v77h-1zM1158 166h1v75h-1zM1159 177h1v64h-1zM1160 195h1v44h-1zM1161 211h1v24h-1zM1164 236h1v16h-1zM1165 217h1v37h-1zM1166 106h1v9h-1zM1166 204h1v50h-1zM1167 106h1v9h-1zM1167 182h1v72h-1zM1168 153h1v101h-1zM1169 125h1v129h-1zM1170 100h1v154h-1zM1171 68h1v186h-1zM1172 68h1v186h-1zM1173 100h1v154h-1zM1174 125h1v129h-1zM1175 153h1v101h-1zM1176 185h1v69h-1zM1177 213h1v41h-1zM1180 208h1v31h-1zM1181 141h1v35h-1zM1181 185h1v57h-1zM1182 155h1v88h-1zM1183 168h1v75h-1zM1184 171h1v72h-1zM1185 185h1v57h-1zM1186 205h1v34h-1zM1187 209h1v27h-1zM1188 205h1v29h-1zM1189 206h1v27h-1zM1325 91h1v55h-1zM1326 83h1v65h-1zM1327 107h1v34h-1zM1335 94h1v35h-1zM1336 94h1v35h-1z"/>
<path fill="#02fffd" d="M958 116h1v42h-1zM983 192h1v21h-1zM984 186h1v30h-1zM985 188h1v27h-1zM1064 163h1v14h-1zM1065 163h1v14h-1zM1099 142h1v33h-1zM1100 142h1v33h-1zM1147 208h1v15h-1zM1148 202h1v25h-1zM1149 200h1v27h-1zM1150 202h1v25h-1zM1151 207h1v18h-1zM1152 129h1v32h-1zM1153 129h1v32h-1zM1153 214h1v17h-1zM1154 200h1v37h-1zM1155 181h1v58h-1zM1156 169h1v71h-1zM1157 166h1v75h-1zM1158 169h1v72h-1zM1159 180h1v60h-1zM1160 198h1v40h-1zM1161 214h1v19h-1zM1164 242h1v7h-1zM1165 227h1v27h-1zM1166 207h1v47h-1zM1167 186h1v68h-1zM1168 156h1v98h-1zM1169 127h1v127h-1zM1170 102h1v152h-1zM1171 78h1v176h-1zM1172 78h1v176h-1zM1173 102h1v152h-1zM1174 127h1v127h-1zM1175 156h1v98h-1zM1176 189h1v65h-1zM1177 218h1v36h-1zM1180 211h1v26h-1zM1181 144h1v29h-1zM1181 188h1v53h-1zM1182 159h1v83h-1zM1183 171h1v71h-1zM1184 174h1v68h-1zM1185 189h1v52h-1zM1186 209h1v29h-1zM1187 213h1v21h-1zM1188 209h1v23h-1zM1189 210h1v20h-1zM1325 95h1v49h-1zM1326 87h1v59h-1zM1327 113h1v24h-1zM1335 99h1v26h-1zM1336 99h1v26h-1z"/>
<path fill="#1bffe4" d="M958 121h1v35h-1zM983 195h1v10h-1zM984 189h1v24h-1zM985 191h1v20h-1zM1099 148h1v18h-1zM1100 148h1v18h-1zM1148 206h1v17h-1zM1149 205h1v19h-1zM1150 206h1v18h-1zM1152 132h1v27h-1zM1153 132h1v28h-1zM1153 221h1v5h-1zM1154 203h1v33h-1zM1155 184h1v54h-1zM1156 171h1v68h-1zM1157 168h1v72h-1zM1158 171h1v69h-1zM1159 183h1v56h-1zM1160 201h1v36h-1zM1161 221h1v7h-1zM1165 234h1v19h-1zM1166 211h1v43h-1zM1167 190h1v64h-1zM1168 159h1v95h-1zM1169 129h1v125h-1zM1170 105h1v149h-1zM1171 90h1v164h-1zM1172 90h1v164h-1zM1173 105h1v149h-1zM1174 129h1v125h-1zM1175 159h1v95h-1zM1176 193h1v61h-1zM1177 224h1v30h-1zM1180 215h1v20h-1zM1181 147h1v23h-1zM1181 192h1v48h-1zM1182 164h1v77h-1zM1183 174h1v68h-1zM1184 177h1v64h-1zM1185 192h1v48h-1zM1186 212h1v24h-1zM1187 217h1v14h-1zM1188 212h1v17h-1zM1189 214h1v10h-1zM1325 99h1v44h-1zM1326 90h1v55h-1zM1327 119h1v13h-1zM1335 104h1v12h-1zM1336 104h1v12h-1z"/>
<path fill="#34ffcb" d="M958 126h1v27h-1zM984 193h1v15h-1zM985 195h1v8h-1zM1149 209h1v10h-1zM1150 210h1v5h-1zM1152 134h1v23h-1zM1153 134h1v24h-1zM1154 206h1v28h-1zM1155 187h1v50h-1zM1156 174h1v65h-1zM1157 171h1v68h-1zM1158 174h1v65h-1zM1159 186h1v52h-1zM1160 204h1v32h-1zM1165 240h1v11h-1zM1166 214h1v40h-1zM1167 193h1v61h-1zM1168 163h1v91h-1zM1169 132h1v122h-1zM1170 107h1v147h-1zM1171 92h1v162h-1zM1172 92h1v162h-1zM1173 107h1v147h-1zM1174 132h1v122h-1zM1175 163h1v91h-1zM1176 197h1v57h-1zM1177 231h1v23h-1zM1180 220h1v12h-1zM1181 149h1v17h-1zM1181 196h1v43h-1zM1182 180h1v61h-1zM1183 177h1v64h-1zM1184 181h1v59h-1zM1185 196h1v43h-1zM1186 216h1v18h-1zM1325 104h1v37h-1zM1326 94h1v50h-1z"/>
<path fill="#4dffb2" d="M958 131h1v18h-1zM1152 136h1v19h-1zM1153 136h1v19h-1zM1154 209h1v23h-1zM1155 190h1v47h-1zM1156 177h1v61h-1zM1157 174h1v64h-1zM1158 177h1v61h-1zM1159 189h1v48h-1zM1160 207h1v27h-1zM1165 245h1v1h-1zM1166 221h1v33h-1zM1167 197h1v57h-1zM1168 166h1v88h-1zM1169 134h1v120h-1zM1170 110h1v144h-1zM1171 95h1v159h-1zM1172 95h1v159h-1zM1173 110h1v144h-1zM1174 134h1v120h-1zM1175 166h1v88h-1zM1176 201h1v53h-1zM1181 200h1v38h-1zM1182 184h1v56h-1zM1183 181h1v59h-1zM1184 184h1v56h-1zM1185 200h1v38h-1zM1186 220h1v11h-1zM1325 109h1v29h-1zM1326 98h1v44h-1z"/>
<path fill="#66ff99" d="M1152 139h1v12h-1zM1153 139h1v12h-1zM1154 213h1v17h-1zM1155 194h1v42h-1zM1156 180h1v57h-1zM1157 177h1v61h-1zM1158 180h1v58h-1zM1159 193h1v43h-1zM1160 210h1v22h-1zM1166 228h1v26h-1zM1167 201h1v53h-1zM1168 170h1v84h-1zM1169 136h1v118h-1zM1170 112h1v142h-1zM1171 97h1v157h-1zM1172 97h1v157h-1zM1173 112h1v142h-1zM1174 136h1v118h-1zM1175 170h1v84h-1zM1176 205h1v49h-1zM1181 204h1v33h-1zM1182 188h1v51h-1zM1183 184h1v55h-1zM1184 188h1v51h-1zM1185 204h1v33h-1zM1325 114h1v21h-1zM1326 102h1v39h-1z"/>
<path fill="#80ff80" d="M1154 218h1v9h-1zM1155 197h1v37h-1zM1156 184h1v52h-1zM1157 180h1v57h-1zM1158 183h1v54h-1zM1159 196h1v39h-1zM1160 213h1v17h-1zM1166 236h1v18h-1zM1167 204h1v50h-1zM1168 173h1v81h-1zM1169 138h1v116h-1zM1170 114h1v140h-1zM1171 99h1v155h-1zM1172 99h1v155h-1zM1173 114h1v140h-1zM1174 138h1v116h-1zM1175 173h1v81h-1zM1176 209h1v45h-1zM1181 208h1v27h-1zM1182 192h1v46h-1zM1183 188h1v50h-1zM1184 192h1v46h-1zM1185 209h1v26h-1zM1325 119h1v10h-1zM1326 106h1v33h-1z"/>
<path fill="#99ff66" d="M1155 201h1v32h-1zM1156 187h1v48h-1zM1157 183h1v53h-1zM1158 187h1v49h-1zM1159 199h1v35h-1zM1160 220h1v5h-1zM1166 244h1v4h-1zM1167 208h1v46h-1zM1168 176h1v78h-1zM1169 142h1v112h-1zM1170 117h1v137h-1zM1171 102h1v152h-1zM1172 102h1v152h-1zM1173 117h1v137h-1zM1174 142h1v112h-1zM1175 177h1v77h-1zM1176 214h1v40h-1zM1181 212h1v22h-1zM1182 196h1v41h-1zM1183 192h1v45h-1zM1184 196h1v41h-1zM1185 213h1v20h-1zM1326 111h1v25h-1z"/>
<path fill="#b2ff4d" d="M1155 204h1v28h-1zM1156 191h1v43h-1zM1157 187h1v48h-1zM1158 190h1v45h-1zM1159 202h1v31h-1zM1167 211h1v43h-1zM1168 180h1v74h-1zM1169 145h1v109h-1zM1170 120h1v134h-1zM1171 104h1v150h-1zM1172 104h1v150h-1zM1173 120h1v134h-1zM1174 145h1v109h-1zM1175 181h1v73h-1zM1176 219h1v35h-1zM1181 216h1v15h-1zM1182 200h1v36h-1zM1183 196h1v40h-1zM1184 201h1v35h-1zM1185 217h1v14h-1zM1326 116h1v16h-1z"/>
<path fill="#cbff34" d="M1155 208h1v22h-1zM1156 194h1v39h-1zM1157 190h1v44h-1zM1158 193h1v41h-1zM1159 206h1v25h-1zM1167 215h1v39h-1zM1168 184h1v70h-1zM1169 148h1v106h-1zM1170 122h1v132h-1zM1171 107h1v147h-1zM1172 107h1v147h-1zM1173 122h1v132h-1zM1174 148h1v106h-1zM1175 185h1v69h-1zM1176 225h1v29h-1zM1182 205h1v29h-1zM1183 201h1v34h-1zM1184 205h1v29h-1z"/>
<path fill="#e4ff1b" d="M1155 212h1v16h-1zM1156 198h1v34h-1zM1157 194h1v39h-1zM1158 197h1v36h-1zM1159 209h1v20h-1zM1167 222h1v32h-1zM1168 188h1v66h-1zM1169 152h1v102h-1zM1170 125h1v129h-1zM1171 110h1v144h-1zM1172 110h1v144h-1zM1173 125h1v129h-1zM1174 152h1v102h-1zM1175 190h1v64h-1zM1176 234h1v20h-1zM1182 209h1v24h-1zM1183 205h1v29h-1zM1184 210h1v23h-1z"/>
<path fill="#fdff02" d="M1155 216h1v7h-1zM1156 202h1v29h-1zM1157 198h1v34h-1zM1158 201h1v30h-1zM1159 213h1v14h-1zM1167 231h1v22h-1zM1168 193h1v61h-1zM1169 155h1v99h-1zM1170 127h1v127h-1zM1171 112h1v142h-1zM1172 112h1v142h-1zM1173 127h1v127h-1zM1174 155h1v99h-1zM1175 195h1v59h-1zM1182 214h1v17h-1zM1183 210h1v22h-1zM1184 214h1v16h-1z"/>
<path fill="#ffe800" d="M1156 206h1v23h-1zM1157 202h1v28h-1zM1158 205h1v25h-1zM1168 197h1v57h-1zM1169 158h1v96h-1zM1170 129h1v125h-1zM1171 115h1v139h-1zM1172 115h1v139h-1zM1173 129h1v125h-1zM1174 158h1v96h-1zM1175 200h1v54h-1zM1182 219h1v8h-1zM1183 215h1v15h-1zM1184 219h1v7h-1z"/>
<path fill="#ffcf00" d="M1156 210h1v17h-1zM1157 206h1v22h-1zM1158 208h1v20h-1zM1168 201h1v53h-1zM1169 162h1v92h-1zM1170 132h1v122h-1zM1171 118h1v136h-1zM1172 118h1v136h-1zM1173 132h1v122h-1zM1174 162h1v92h-1zM1175 205h1v49h-1zM1183 220h1v3h-1z"/>
<path fill="#ffb600" d="M1156 214h1v9h-1zM1157 210h1v16h-1zM1158 212h1v13h-1zM1168 206h1v48h-1zM1169 166h1v88h-1zM1170 134h1v120h-1zM1171 121h1v133h-1zM1172 121h1v133h-1zM1173 134h1v120h-1zM1174 166h1v88h-1zM1175 210h1v44h-1z"/>
<path fill="#ff9d00" d="M1157 214h1v8h-1zM1168 210h1v44h-1zM1169 171h1v83h-1zM1170 136h1v118h-1zM1171 124h1v130h-1zM1172 124h1v130h-1zM1173 136h1v118h-1zM1174 171h1v83h-1zM1175 215h1v39h-1z"/>
<path fill="#ff8300" d="M1168 215h1v39h-1zM1169 175h1v79h-1zM1170 139h1v115h-1zM1171 127h1v127h-1zM1172 127h1v127h-1zM1173 139h1v115h-1zM1174 175h1v79h-1zM1175 223h1v31h-1z"/>
<path fill="#ff6a00" d="M1168 224h1v23h-1zM1169 179h1v75h-1zM1170 143h1v111h-1zM1171 129h1v125h-1zM1172 129h1v125h-1zM1173 143h1v111h-1zM1174 180h1v74h-1zM1175 235h1v8h-1z"/>
<path fill="#ff5100" d="M1169 186h1v68h-1zM1170 148h1v106h-1zM1171 132h1v122h-1zM1172 132h1v122h-1zM1173 148h1v106h-1zM1174 187h1v67h-1z"/>
<path fill="#ff3800" d="M1169 192h1v62h-1zM1170 152h1v102h-1zM1171 134h1v120h-1zM1172 134h1v120h-1zM1173 152h1v102h-1zM1174 194h1v60h-1z"/>
<path fill="#ff1f00" d="M1169 199h1v55h-1zM1170 157h1v97h-1zM1171 137h1v117h-1zM1172 137h1v117h-1zM1173 157h1v97h-1zM1174 202h1v52h-1z"/>
<path fill="#ff0600" d="M1169 206h1v45h-1zM1170 162h1v92h-1zM1171 141h1v113h-1zM1172 141h1v113h-1zM1173 162h1v92h-1zM1174 210h1v41h-1z"/>
<path fill="#ec0000" d="M1169 213h1v33h-1zM1170 168h1v86h-1zM1171 147h1v107h-1zM1172 147h1v107h-1zM1173 169h1v85h-1zM1174 220h1v24h-1z"/>
<path fill="#d30000" d="M1169 229h1v9h-1zM1170 175h1v79h-1zM1171 153h1v101h-1zM1172 153h1v101h-1zM1173 175h1v79h-1z"/>
<path fill="#ba0000" d="M1170 183h1v68h-1zM1171 159h1v95h-1zM1172 159h1v95h-1zM1173 185h1v65h-1z"/>
<path fill="#a10000" d="M1170 198h1v48h-1zM1171 167h1v84h-1zM1172 167h1v84h-1zM1173 200h1v45h-1z"/>
<path fill="#870000" d="M1170 210h1v31h-1zM1171 176h1v71h-1zM1172 176h1v70h-1zM1173 214h1v26h-1z"/>
<rect x="896" y="328" width="524" height="189" fill="rgb(0, 0, 143)"/>
<path fill="#0000a1" d="M896 437h1v38h-1zM897 435h1v41h-1zM898 435h1v41h-1zM899 437h1v38h-1zM900 444h1v31h-1zM901 455h1v18h-1zM909 493h1v11h-1zM910 486h1v20h-1zM911 483h1v23h-1zM912 483h1v23h-1zM913 486h1v20h-1zM914 493h1v11h-1zM926 489h1v5h-1zM927 467h1v35h-1zM928 453h1v51h-1zM929 442h1v62h-1zM930 435h1v69h-1zM931 433h1v71h-1zM932 433h1v71h-1zM933 435h1v69h-1zM934 442h1v62h-1zM935 452h1v52h-1zM936 448h1v54h-1zM937 420h1v10h-1zM937 445h1v51h-1zM938 401h1v38h-1zM938 445h1v51h-1zM939 401h1v38h-1zM939 448h1v48h-1zM940 420h1v10h-1zM940 455h1v40h-1zM941 467h1v27h-1zM955 389h1v59h-1zM956 334h1v127h-1zM957 334h1v127h-1zM958 389h1v59h-1zM959 328h1v32h-1zM960 328h1v33h-1zM961 328h1v33h-1zM962 328h1v32h-1zM971 353h1v88h-1zM972 343h1v99h-1zM973 343h1v99h-1zM974 353h1v88h-1zM978 491h1v24h-1zM979 469h1v48h-1zM980 380h1v29h-1zM980 450h1v67h-1zM981 371h1v40h-1zM981 430h1v87h-1zM982 371h1v146h-1zM983 380h1v137h-1zM984 378h1v139h-1zM985 371h1v146h-1zM986 371h1v146h-1zM987 378h1v139h-1zM988 393h1v124h-1zM989 411h1v106h-1zM990 430h1v87h-1zM991 426h1v91h-1zM992 407h1v110h-1zM993 388h1v127h-1zM994 328h1v22h-1zM994 370h1v140h-1zM995 328h1v23h-1zM995 356h1v154h-1zM996 328h1v182h-1zM997 350h1v160h-1zM998 356h1v154h-1zM999 363h1v147h-1zM1000 349h1v161h-1zM1001 349h1v161h-1zM1002 364h1v52h-1zM1002 426h1v83h-1zM1003 445h1v63h-1zM1004 465h1v39h-1zM1014 439h1v15h-1zM1015 427h1v31h-1zM1016 427h1v31h-1zM1017 439h1v15h-1zM1058 470h1v33h-1zM1059 454h1v51h-1zM1060 444h1v61h-1zM1061 442h1v63h-1zM1062 442h1v63h-1zM1063 444h1v61h-1zM1064 454h1v51h-1zM1065 470h1v33h-1zM1129 453h1v25h-1zM1130 445h1v35h-1zM1131 445h1v35h-1zM1132 449h1v31h-1zM1133 453h1v27h-1zM1134 462h1v16h-1zM1147 474h1v23h-1zM1148 463h1v37h-1zM1149 452h1v49h-1zM1150 434h1v68h-1zM1151 426h1v76h-1zM1152 426h1v76h-1zM1153 428h1v75h-1zM1154 427h1v76h-1zM1155 427h1v76h-1zM1156 427h1v76h-1zM1157 427h1v76h-1zM1158 428h1v75h-1zM1159 431h1v71h-1zM1160 436h1v66h-1zM1161 443h1v59h-1zM1162 453h1v48h-1zM1163 463h1v37h-1zM1164 474h1v24h-1zM1165 477h1v40h-1zM1166 454h1v63h-1zM1167 432h1v85h-1zM1168 410h1v107h-1zM1169 389h1v128h-1zM1170 379h1v138h-1zM1171 378h1v139h-1zM1172 379h1v138h-1zM1173 386h1v131h-1zM1174 405h1v112h-1zM1175 427h1v90h-1zM1176 449h1v68h-1zM1177 471h1v46h-1zM1178 467h1v42h-1zM1179 465h1v44h-1zM1180 465h1v44h-1zM1181 467h1v42h-1zM1182 475h1v33h-1zM1183 485h1v22h-1zM1271 329h1v42h-1zM1272 328h1v44h-1zM1273 337h1v32h-1zM1293 483h1v15h-1zM1294 468h1v34h-1zM1295 458h1v44h-1zM1296 455h1v48h-1zM1297 454h1v49h-1zM1298 454h1v49h-1zM1299 456h1v47h-1zM1300 463h1v39h-1zM1301 476h1v24h-1zM1322 443h1v19h-1zM1323 368h1v113h-1zM1324 351h1v133h-1zM1325 350h1v134h-1zM1326 350h1v134h-1zM1327 350h1v134h-1zM1328 352h1v131h-1zM1329 391h1v87h-1zM1334 374h1v27h-1zM1335 349h1v57h-1zM1336 349h1v57h-1zM1337 374h1v27h-1z"/>
<path fill="#0000ba" d="M896 441h1v33h-1zM897 438h1v36h-1zM898 438h1v36h-1zM899 441h1v33h-1zM900 450h1v22h-1zM910 491h1v12h-1zM911 487h1v17h-1zM912 487h1v17h-1zM913 491h1v12h-1zM927 484h1v9h-1zM928 462h1v38h-1zM929 449h1v53h-1zM930 440h1v62h-1zM931 437h1v66h-1zM932 437h1v66h-1zM933 440h1v62h-1zM934 449h1v53h-1zM935 460h1v40h-1zM936 454h1v41h-1zM937 450h1v44h-1zM938 405h1v30h-1zM938 450h1v44h-1zM939 405h1v30h-1zM939 454h1v40h-1zM940 463h1v30h-1zM956 347h1v106h-1zM957 347h1v106h-1zM959 329h1v29h-1zM960 328h1v32h-1zM961 328h1v32h-1zM962 329h1v29h-1zM971 369h1v68h-1zM972 346h1v94h-1zM973 346h1v94h-1zM974 369h1v68h-1zM979 490h1v21h-1zM980 390h1v15h-1zM980 466h1v51h-1zM981 376h1v33h-1zM981 445h1v72h-1zM982 376h1v33h-1zM982 425h1v92h-1zM983 390h1v127h-1zM984 388h1v129h-1zM985 380h1v137h-1zM986 380h1v137h-1zM987 388h1v129h-1zM988 405h1v112h-1zM989 425h1v92h-1zM990 444h1v73h-1zM991 444h1v73h-1zM992 424h1v87h-1zM993 404h1v104h-1zM994 332h1v14h-1zM994 385h1v123h-1zM995 328h1v21h-1zM995 369h1v139h-1zM996 332h1v14h-1zM996 361h1v147h-1zM997 361h1v147h-1zM998 369h1v139h-1zM999 377h1v131h-1zM1000 354h1v154h-1zM1001 354h1v62h-1zM1001 424h1v83h-1zM1002 385h1v18h-1zM1002 444h1v61h-1zM1003 466h1v34h-1zM1015 432h1v24h-1zM1016 432h1v24h-1zM1058 488h1v5h-1zM1059 465h1v37h-1zM1060 452h1v51h-1zM1061 448h1v56h-1zM1062 448h1v56h-1zM1063 452h1v51h-1zM1064 465h1v37h-1zM1065 488h1v5h-1zM1130 450h1v27h-1zM1131 449h1v29h-1zM1132 453h1v25h-1zM1133 458h1v19h-1zM1148 483h1v7h-1zM1149 466h1v31h-1zM1150 444h1v55h-1zM1151 431h1v69h-1zM1152 431h1v69h-1zM1153 435h1v66h-1zM1154 434h1v67h-1zM1155 433h1v68h-1zM1156 433h1v68h-1zM1157 434h1v67h-1zM1158 436h1v65h-1zM1159 440h1v60h-1zM1160 447h1v53h-1zM1161 456h1v43h-1zM1162 466h1v31h-1zM1163 483h1v7h-1zM1166 469h1v47h-1zM1167 444h1v73h-1zM1168 420h1v97h-1zM1169 397h1v120h-1zM1170 382h1v135h-1zM1171 380h1v137h-1zM1172 381h1v136h-1zM1173 393h1v124h-1zM1174 415h1v102h-1zM1175 439h1v78h-1zM1176 464h1v53h-1zM1177 480h1v28h-1zM1178 472h1v35h-1zM1179 468h1v40h-1zM1180 468h1v40h-1zM1181 472h1v35h-1zM1182 481h1v25h-1zM1183 497h1v4h-1zM1271 335h1v32h-1zM1272 330h1v39h-1zM1294 479h1v18h-1zM1295 467h1v33h-1zM1296 460h1v41h-1zM1297 459h1v42h-1zM1298 459h1v42h-1zM1299 463h1v38h-1zM1300 473h1v26h-1zM1323 397h1v75h-1zM1324 355h1v125h-1zM1325 351h1v130h-1zM1326 351h1v130h-1zM1327 351h1v130h-1zM1328 364h1v114h-1zM1329 434h1v25h-1zM1335 355h1v48h-1zM1336 355h1v48h-1z"/>
<path fill="#0000d3" d="M896 445h1v27h-1zM897 440h1v32h-1zM898 440h1v32h-1zM899 445h1v27h-1zM900 456h1v12h-1zM911 490h1v12h-1zM912 490h1v12h-1zM928 468h1v28h-1zM929 454h1v46h-1zM930 445h1v56h-1zM931 441h1v60h-1zM932 441h1v60h-1zM933 445h1v56h-1zM934 454h1v46h-1zM935 464h1v32h-1zM936 458h1v35h-1zM937 454h1v39h-1zM938 409h1v21h-1zM938 454h1v39h-1zM939 409h1v21h-1zM939 458h1v34h-1zM940 468h1v22h-1zM956 357h1v89h-1zM957 357h1v89h-1zM959 331h1v25h-1zM960 328h1v31h-1zM961 328h1v31h-1zM962 331h1v25h-1zM971 381h1v52h-1zM972 349h1v89h-1zM973 349h1v89h-1zM974 381h1v52h-1zM980 476h1v37h-1zM981 381h1v26h-1zM981 455h1v62h-1zM982 381h1v26h-1zM982 433h1v84h-1zM983 413h1v104h-1zM984 396h1v121h-1zM985 387h1v130h-1zM986 387h1v130h-1zM987 396h1v121h-1zM988 413h1v104h-1zM989 433h1v84h-1zM990 453h1v64h-1zM991 455h1v58h-1zM992 435h1v71h-1zM993 414h1v92h-1zM994 394h1v112h-1zM995 328h1v19h-1zM995 378h1v129h-1zM996 370h1v137h-1zM997 370h1v137h-1zM998 378h1v129h-1zM999 389h1v117h-1zM1000 359h1v146h-1zM1001 359h1v52h-1zM1001 435h1v69h-1zM1002 456h1v44h-1zM1015 437h1v16h-1zM1016 437h1v16h-1zM1059 472h1v26h-1zM1060 458h1v43h-1zM1061 453h1v49h-1zM1062 453h1v49h-1zM1063 458h1v43h-1zM1064 472h1v26h-1zM1130 453h1v21h-1zM1131 452h1v24h-1zM1132 456h1v20h-1zM1133 462h1v11h-1zM1149 478h1v12h-1zM1150 464h1v32h-1zM1151 435h1v63h-1zM1152 435h1v64h-1zM1153 440h1v59h-1zM1154 439h1v60h-1zM1155 438h1v61h-1zM1156 438h1v61h-1zM1157 439h1v60h-1zM1158 442h1v57h-1zM1159 447h1v52h-1zM1160 455h1v43h-1zM1161 464h1v32h-1zM1162 478h1v12h-1zM1166 481h1v29h-1zM1167 452h1v64h-1zM1168 427h1v90h-1zM1169 403h1v114h-1zM1170 385h1v132h-1zM1171 381h1v136h-1zM1172 383h1v134h-1zM1173 398h1v119h-1zM1174 422h1v95h-1zM1175 447h1v70h-1zM1176 474h1v38h-1zM1177 484h1v21h-1zM1178 475h1v31h-1zM1179 471h1v36h-1zM1180 471h1v36h-1zM1181 475h1v31h-1zM1182 485h1v19h-1zM1271 339h1v24h-1zM1272 333h1v34h-1zM1295 473h1v25h-1zM1296 465h1v35h-1zM1297 463h1v37h-1zM1298 464h1v36h-1zM1299 469h1v30h-1zM1300 480h1v15h-1zM1323 420h1v41h-1zM1324 361h1v115h-1zM1325 352h1v127h-1zM1326 352h1v127h-1zM1327 353h1v125h-1zM1328 377h1v96h-1zM1335 360h1v40h-1zM1336 360h1v40h-1z"/>
<path fill="#0000ec" d="M896 447h1v23h-1zM897 443h1v28h-1zM898 443h1v28h-1zM899 447h1v23h-1zM911 493h1v6h-1zM912 493h1v6h-1zM928 477h1v14h-1zM929 458h1v40h-1zM930 448h1v51h-1zM931 444h1v56h-1zM932 444h1v56h-1zM933 448h1v51h-1zM934 458h1v40h-1zM935 468h1v25h-1zM936 462h1v29h-1zM937 457h1v34h-1zM938 457h1v34h-1zM939 462h1v28h-1zM940 474h1v11h-1zM956 367h1v71h-1zM957 367h1v71h-1zM959 335h1v18h-1zM960 328h1v30h-1zM961 328h1v30h-1zM962 335h1v18h-1zM971 391h1v37h-1zM972 353h1v84h-1zM973 353h1v84h-1zM974 391h1v37h-1zM980 487h1v20h-1zM981 385h1v20h-1zM981 462h1v53h-1zM982 385h1v20h-1zM982 440h1v77h-1zM983 420h1v97h-1zM984 402h1v115h-1zM985 393h1v124h-1zM986 393h1v124h-1zM987 402h1v115h-1zM988 420h1v97h-1zM989 440h1v77h-1zM990 460h1v55h-1zM991 464h1v44h-1zM992 444h1v58h-1zM993 423h1v81h-1zM994 403h1v102h-1zM995 329h1v16h-1zM995 387h1v118h-1zM996 379h1v126h-1zM997 379h1v126h-1zM998 387h1v118h-1zM999 400h1v105h-1zM1000 364h1v44h-1zM1000 423h1v80h-1zM1001 364h1v42h-1zM1001 444h1v57h-1zM1002 467h1v28h-1zM1015 442h1v5h-1zM1016 442h1v5h-1zM1059 478h1v15h-1zM1060 463h1v36h-1zM1061 457h1v43h-1zM1062 457h1v43h-1zM1063 463h1v36h-1zM1064 478h1v15h-1zM1130 456h1v15h-1zM1131 455h1v19h-1zM1132 459h1v14h-1zM1150 470h1v22h-1zM1151 439h1v18h-1zM1151 460h1v35h-1zM1152 438h1v59h-1zM1153 445h1v53h-1zM1154 444h1v54h-1zM1155 443h1v55h-1zM1156 443h1v55h-1zM1157 444h1v54h-1zM1158 447h1v51h-1zM1159 453h1v44h-1zM1160 461h1v34h-1zM1161 470h1v22h-1zM1167 458h1v56h-1zM1168 432h1v85h-1zM1169 407h1v110h-1zM1170 388h1v129h-1zM1171 383h1v134h-1zM1172 386h1v131h-1zM1173 402h1v115h-1zM1174 427h1v90h-1zM1175 453h1v62h-1zM1176 484h1v22h-1zM1177 488h1v14h-1zM1178 478h1v27h-1zM1179 473h1v32h-1zM1180 473h1v32h-1zM1181 478h1v27h-1zM1182 489h1v12h-1zM1272 336h1v28h-1zM1295 477h1v19h-1zM1296 469h1v29h-1zM1297 467h1v32h-1zM1298 468h1v30h-1zM1299 473h1v24h-1zM1324 369h1v103h-1zM1325 354h1v122h-1zM1326 353h1v124h-1zM1327 356h1v119h-1zM1328 390h1v78h-1zM1335 364h1v32h-1zM1336 364h1v32h-1z"/>
<path fill="#0006ff" d="M896 450h1v17h-1zM897 445h1v24h-1zM898 445h1v24h-1zM899 450h1v17h-1zM929 462h1v33h-1zM930 451h1v47h-1zM931 447h1v51h-1zM932 447h1v51h-1zM933 451h1v47h-1zM934 462h1v33h-1zM935 472h1v17h-1zM936 465h1v24h-1zM937 460h1v30h-1zM938 460h1v30h-1zM939 465h1v23h-1zM956 375h1v52h-1zM957 375h1v52h-1zM959 342h1v7h-1zM960 328h1v29h-1zM961 328h1v29h-1zM962 342h1v7h-1zM971 404h1v16h-1zM972 357h1v78h-1zM973 357h1v78h-1zM974 404h1v16h-1zM981 388h1v14h-1zM981 468h1v44h-1zM982 388h1v14h-1zM982 446h1v69h-1zM983 426h1v91h-1zM984 408h1v109h-1zM985 399h1v118h-1zM986 399h1v118h-1zM987 408h1v109h-1zM988 426h1v91h-1zM989 446h1v69h-1zM990 467h1v45h-1zM991 473h1v29h-1zM992 451h1v48h-1zM993 430h1v71h-1zM994 410h1v93h-1zM995 330h1v13h-1zM995 394h1v110h-1zM996 386h1v118h-1zM997 386h1v118h-1zM998 394h1v110h-1zM999 409h1v94h-1zM1000 368h1v33h-1zM1000 430h1v71h-1zM1001 368h1v32h-1zM1001 451h1v47h-1zM1060 468h1v29h-1zM1061 461h1v37h-1zM1062 461h1v37h-1zM1063 468h1v29h-1zM1131 457h1v14h-1zM1132 461h1v8h-1zM1151 442h1v8h-1zM1151 466h1v26h-1zM1152 441h1v54h-1zM1153 450h1v46h-1zM1154 448h1v48h-1zM1155 447h1v50h-1zM1156 447h1v50h-1zM1157 448h1v48h-1zM1158 452h1v44h-1zM1159 458h1v37h-1zM1160 466h1v26h-1zM1167 463h1v48h-1zM1168 436h1v80h-1zM1169 411h1v106h-1zM1170 391h1v126h-1zM1171 385h1v132h-1zM1172 388h1v129h-1zM1173 406h1v111h-1zM1174 431h1v85h-1zM1175 458h1v55h-1zM1178 480h1v23h-1zM1179 475h1v29h-1zM1180 475h1v29h-1zM1181 480h1v23h-1zM1272 338h1v23h-1zM1295 482h1v9h-1zM1296 473h1v23h-1zM1297 471h1v26h-1zM1298 471h1v26h-1zM1299 478h1v17h-1zM1324 378h1v90h-1zM1325 356h1v118h-1zM1326 355h1v119h-1zM1327 360h1v112h-1zM1328 401h1v61h-1zM1335 369h1v22h-1zM1336 369h1v22h-1z"/>
<path fill="#001fff" d="M896 453h1v10h-1zM897 447h1v20h-1zM898 447h1v20h-1zM899 453h1v10h-1zM929 465h1v27h-1zM930 454h1v42h-1zM931 449h1v48h-1zM932 449h1v48h-1zM933 454h1v42h-1zM934 465h1v28h-1zM936 468h1v19h-1zM937 463h1v25h-1zM938 463h1v25h-1zM939 468h1v18h-1zM960 328h1v28h-1zM961 328h1v28h-1zM972 361h1v72h-1zM973 361h1v72h-1zM981 392h1v4h-1zM981 474h1v35h-1zM982 392h1v4h-1zM982 452h1v62h-1zM983 431h1v85h-1zM984 413h1v103h-1zM985 404h1v113h-1zM986 404h1v113h-1zM987 413h1v103h-1zM988 431h1v85h-1zM989 452h1v62h-1zM990 472h1v37h-1zM992 458h1v37h-1zM993 437h1v62h-1zM994 417h1v84h-1zM995 331h1v9h-1zM995 401h1v101h-1zM996 393h1v109h-1zM997 393h1v109h-1zM998 401h1v101h-1zM999 417h1v84h-1zM1000 371h1v19h-1zM1000 437h1v62h-1zM1001 371h1v19h-1zM1001 458h1v36h-1zM1060 472h1v22h-1zM1061 465h1v31h-1zM1062 465h1v31h-1zM1063 472h1v22h-1zM1131 461h1v6h-1zM1151 471h1v17h-1zM1152 462h1v31h-1zM1153 456h1v38h-1zM1154 452h1v43h-1zM1155 451h1v44h-1zM1156 451h1v44h-1zM1157 452h1v43h-1zM1158 456h1v38h-1zM1159 462h1v31h-1zM1160 471h1v17h-1zM1167 469h1v39h-1zM1168 441h1v73h-1zM1169 414h1v102h-1zM1170 393h1v124h-1zM1171 387h1v130h-1zM1172 391h1v126h-1zM1173 409h1v107h-1zM1174 435h1v80h-1zM1175 462h1v48h-1zM1178 483h1v19h-1zM1179 478h1v25h-1zM1180 478h1v25h-1zM1181 483h1v19h-1zM1272 340h1v16h-1zM1296 477h1v17h-1zM1297 474h1v21h-1zM1298 475h1v20h-1zM1299 481h1v9h-1zM1324 387h1v77h-1zM1325 360h1v111h-1zM1326 357h1v115h-1zM1327 365h1v105h-1zM1328 413h1v40h-1z"/>
<path fill="#0038ff" d="M897 449h1v15h-1zM898 449h1v15h-1zM929 469h1v20h-1zM930 457h1v37h-1zM931 452h1v43h-1zM932 452h1v43h-1zM933 457h1v37h-1zM934 468h1v21h-1zM936 471h1v12h-1zM937 466h1v20h-1zM938 466h1v20h-1zM939 471h1v11h-1zM960 328h1v27h-1zM961 328h1v27h-1zM972 365h1v66h-1zM973 365h1v66h-1zM981 480h1v25h-1zM982 457h1v55h-1zM983 436h1v78h-1zM984 419h1v96h-1zM985 410h1v106h-1zM986 410h1v106h-1zM987 419h1v96h-1zM988 436h1v78h-1zM989 457h1v55h-1zM990 478h1v27h-1zM992 467h1v23h-1zM993 443h1v54h-1zM994 423h1v76h-1zM995 408h1v92h-1zM996 400h1v101h-1zM997 400h1v101h-1zM998 408h1v92h-1zM999 423h1v76h-1zM1000 443h1v54h-1zM1001 467h1v21h-1zM1060 476h1v13h-1zM1061 469h1v25h-1zM1062 469h1v25h-1zM1063 476h1v13h-1zM1152 466h1v24h-1zM1153 460h1v32h-1zM1154 456h1v37h-1zM1155 455h1v39h-1zM1156 455h1v39h-1zM1157 456h1v37h-1zM1158 460h1v32h-1zM1159 466h1v24h-1zM1167 476h1v29h-1zM1168 444h1v68h-1zM1169 418h1v97h-1zM1170 396h1v120h-1zM1171 389h1v127h-1zM1172 393h1v123h-1zM1173 413h1v102h-1zM1174 439h1v74h-1zM1175 468h1v39h-1zM1178 485h1v15h-1zM1179 480h1v22h-1zM1180 480h1v22h-1zM1181 485h1v15h-1zM1296 480h1v11h-1zM1297 477h1v16h-1zM1298 478h1v14h-1zM1324 396h1v64h-1zM1325 363h1v106h-1zM1326 360h1v110h-1zM1327 370h1v97h-1z"/>
<path fill="#0051ff" d="M897 451h1v9h-1zM898 451h1v9h-1zM930 459h1v33h-1zM931 454h1v39h-1zM932 454h1v39h-1zM933 459h1v33h-1zM934 478h1v5h-1zM937 469h1v14h-1zM938 469h1v14h-1zM960 329h1v25h-1zM961 329h1v25h-1zM972 370h1v59h-1zM973 370h1v59h-1zM981 492h1v5h-1zM982 462h1v48h-1zM983 441h1v72h-1zM984 423h1v91h-1zM985 415h1v100h-1zM986 415h1v100h-1zM987 423h1v91h-1zM988 441h1v72h-1zM989 462h1v48h-1zM990 487h1v13h-1zM993 449h1v45h-1zM994 430h1v67h-1zM995 414h1v85h-1zM996 407h1v92h-1zM997 407h1v92h-1zM998 414h1v85h-1zM999 430h1v67h-1zM1000 449h1v45h-1zM1061 473h1v18h-1zM1062 473h1v18h-1zM1152 471h1v15h-1zM1153 464h1v26h-1zM1154 460h1v31h-1zM1155 459h1v33h-1zM1156 459h1v33h-1zM1157 460h1v31h-1zM1158 464h1v26h-1zM1159 471h1v15h-1zM1167 484h1v15h-1zM1168 448h1v63h-1zM1169 421h1v93h-1zM1170 399h1v116h-1zM1171 391h1v124h-1zM1172 396h1v119h-1zM1173 416h1v98h-1zM1174 442h1v70h-1zM1175 474h1v30h-1zM1178 487h1v9h-1zM1179 482h1v18h-1zM1180 482h1v18h-1zM1181 487h1v9h-1zM1297 480h1v10h-1zM1298 482h1v6h-1zM1324 405h1v48h-1zM1325 368h1v98h-1zM1326 364h1v103h-1zM1327 376h1v88h-1z"/>
<path fill="#006aff" d="M930 462h1v28h-1zM931 457h1v35h-1zM932 457h1v35h-1zM933 462h1v28h-1zM937 472h1v6h-1zM938 472h1v6h-1zM960 329h1v24h-1zM961 329h1v24h-1zM972 374h1v53h-1zM973 374h1v53h-1zM982 466h1v42h-1zM983 445h1v67h-1zM984 428h1v85h-1zM985 420h1v94h-1zM986 420h1v94h-1zM987 428h1v85h-1zM988 445h1v67h-1zM989 466h1v42h-1zM993 455h1v36h-1zM994 436h1v59h-1zM995 421h1v76h-1zM996 414h1v84h-1zM997 414h1v84h-1zM998 421h1v76h-1zM999 436h1v59h-1zM1000 455h1v36h-1zM1061 476h1v8h-1zM1062 476h1v8h-1zM1153 468h1v19h-1zM1154 464h1v25h-1zM1155 463h1v27h-1zM1156 463h1v27h-1zM1157 464h1v25h-1zM1158 468h1v19h-1zM1168 451h1v58h-1zM1169 424h1v89h-1zM1170 401h1v113h-1zM1171 394h1v120h-1zM1172 398h1v116h-1zM1173 419h1v94h-1zM1174 446h1v64h-1zM1175 480h1v19h-1zM1179 484h1v14h-1zM1180 484h1v14h-1zM1324 416h1v28h-1zM1325 372h1v91h-1zM1326 368h1v97h-1zM1327 382h1v78h-1z"/>
<path fill="#0083ff" d="M930 464h1v23h-1zM931 459h1v31h-1zM932 459h1v31h-1zM933 464h1v23h-1zM960 329h1v23h-1zM961 329h1v23h-1zM972 379h1v46h-1zM973 379h1v46h-1zM982 471h1v35h-1zM983 450h1v60h-1zM984 433h1v79h-1zM985 424h1v88h-1zM986 424h1v88h-1zM987 433h1v79h-1zM988 450h1v60h-1zM989 470h1v36h-1zM993 461h1v25h-1zM994 441h1v52h-1zM995 427h1v68h-1zM996 420h1v76h-1zM997 420h1v76h-1zM998 427h1v68h-1zM999 441h1v52h-1zM1000 461h1v25h-1zM1153 472h1v9h-1zM1154 468h1v18h-1zM1155 466h1v21h-1zM1156 466h1v21h-1zM1157 468h1v18h-1zM1158 472h1v9h-1zM1168 455h1v52h-1zM1169 427h1v84h-1zM1170 404h1v109h-1zM1171 396h1v117h-1zM1172 401h1v112h-1zM1173 422h1v90h-1zM1174 449h1v60h-1zM1179 486h1v9h-1zM1180 486h1v9h-1zM1325 378h1v82h-1zM1326 372h1v90h-1zM1327 389h1v67h-1z"/>
<path fill="#009dff" d="M930 466h1v16h-1zM931 461h1v26h-1zM932 461h1v26h-1zM933 466h1v16h-1zM960 330h1v21h-1zM961 330h1v21h-1zM972 384h1v38h-1zM973 384h1v38h-1zM982 475h1v28h-1zM983 454h1v55h-1zM984 437h1v74h-1zM985 429h1v82h-1zM986 429h1v82h-1zM987 437h1v74h-1zM988 454h1v55h-1zM989 475h1v28h-1zM994 447h1v44h-1zM995 433h1v60h-1zM996 426h1v68h-1zM997 426h1v68h-1zM998 433h1v60h-1zM999 447h1v44h-1zM1154 471h1v9h-1zM1155 470h1v13h-1zM1156 470h1v13h-1zM1157 471h1v9h-1zM1168 458h1v47h-1zM1169 430h1v80h-1zM1170 407h1v105h-1zM1171 398h1v114h-1zM1172 404h1v108h-1zM1173 424h1v87h-1zM1174 452h1v55h-1zM1325 383h1v74h-1zM1326 377h1v82h-1zM1327 396h1v56h-1z"/>
<path fill="#00b6ff" d="M931 464h1v20h-1zM932 464h1v20h-1zM960 330h1v20h-1zM961 330h1v20h-1zM972 388h1v31h-1zM973 388h1v31h-1zM982 481h1v17h-1zM983 458h1v49h-1zM984 442h1v67h-1zM985 434h1v76h-1zM986 434h1v76h-1zM987 442h1v67h-1zM988 458h1v49h-1zM989 480h1v19h-1zM994 452h1v36h-1zM995 438h1v53h-1zM996 432h1v60h-1zM997 432h1v60h-1zM998 438h1v53h-1zM999 452h1v36h-1zM1168 461h1v42h-1zM1169 433h1v76h-1zM1170 409h1v102h-1zM1171 401h1v110h-1zM1172 406h1v105h-1zM1173 427h1v83h-1zM1174 455h1v50h-1zM1325 389h1v64h-1zM1326 382h1v74h-1zM1327 403h1v43h-1z"/>
<path fill="#00cfff" d="M931 466h1v13h-1zM932 466h1v13h-1zM960 331h1v18h-1zM961 331h1v18h-1zM972 393h1v21h-1zM973 393h1v21h-1zM983 462h1v43h-1zM984 446h1v62h-1zM985 438h1v71h-1zM986 438h1v71h-1zM987 446h1v62h-1zM988 462h1v43h-1zM994 458h1v25h-1zM995 444h1v45h-1zM996 438h1v52h-1zM997 438h1v52h-1zM998 444h1v45h-1zM999 458h1v25h-1zM1168 465h1v36h-1zM1169 435h1v73h-1zM1170 412h1v98h-1zM1171 403h1v107h-1zM1172 409h1v101h-1zM1173 430h1v78h-1zM1174 458h1v45h-1zM1325 396h1v52h-1zM1326 388h1v64h-1zM1327 411h1v25h-1z"/>
<path fill="#00e8ff" d="M960 331h1v16h-1zM961 331h1v16h-1zM983 466h1v37h-1zM984 450h1v57h-1zM985 443h1v65h-1zM986 443h1v65h-1zM987 450h1v57h-1zM988 466h1v37h-1zM994 467h1v7h-1zM995 450h1v36h-1zM996 444h1v44h-1zM997 444h1v44h-1zM998 450h1v36h-1zM999 467h1v7h-1zM1168 470h1v28h-1zM1169 438h1v69h-1zM1170 415h1v94h-1zM1171 406h1v103h-1zM1172 411h1v98h-1zM1173 433h1v74h-1zM1174 461h1v40h-1zM1325 403h1v39h-1zM1326 394h1v53h-1z"/>
<path fill="#02fffd" d="M960 331h1v14h-1zM961 331h1v14h-1zM983 470h1v31h-1zM984 454h1v51h-1zM985 447h1v59h-1zM986 447h1v59h-1zM987 454h1v51h-1zM988 470h1v31h-1zM995 455h1v27h-1zM996 450h1v35h-1zM997 450h1v35h-1zM998 455h1v27h-1zM1168 475h1v19h-1zM1169 441h1v64h-1zM1170 417h1v91h-1zM1171 408h1v100h-1zM1172 414h1v94h-1zM1173 435h1v71h-1zM1174 465h1v34h-1zM1325 411h1v20h-1zM1326 401h1v41h-1z"/>
<path fill="#1bffe4" d="M960 332h1v10h-1zM961 332h1v10h-1zM983 474h1v24h-1zM984 458h1v45h-1zM985 451h1v54h-1zM986 451h1v54h-1zM987 458h1v45h-1zM988 474h1v24h-1zM995 461h1v14h-1zM996 455h1v25h-1zM997 455h1v25h-1zM998 461h1v14h-1zM1169 443h1v61h-1zM1170 420h1v87h-1zM1171 411h1v96h-1zM1172 417h1v90h-1zM1173 438h1v67h-1zM1174 470h1v25h-1zM1326 409h1v23h-1z"/>
<path fill="#34ffcb" d="M983 479h1v13h-1zM984 462h1v40h-1zM985 455h1v48h-1zM986 455h1v48h-1zM987 462h1v40h-1zM988 479h1v13h-1zM996 461h1v12h-1zM997 461h1v12h-1zM1169 446h1v56h-1zM1170 422h1v84h-1zM1171 414h1v92h-1zM1172 419h1v87h-1zM1173 441h1v62h-1zM1174 476h1v15h-1z"/>
<path fill="#4dffb2" d="M984 466h1v33h-1zM985 459h1v42h-1zM986 459h1v42h-1zM987 466h1v33h-1zM1169 449h1v52h-1zM1170 425h1v80h-1zM1171 416h1v89h-1zM1172 422h1v83h-1zM1173 443h1v59h-1z"/>
<path fill="#66ff99" d="M984 470h1v27h-1zM985 464h1v35h-1zM986 464h1v35h-1zM987 470h1v27h-1zM1169 452h1v47h-1zM1170 428h1v75h-1zM1171 419h1v85h-1zM1172 425h1v79h-1zM1173 446h1v55h-1z"/>
<path fill="#80ff80" d="M984 474h1v19h-1zM985 468h1v29h-1zM986 468h1v29h-1zM987 474h1v19h-1zM1169 454h1v43h-1zM1170 431h1v71h-1zM1171 422h1v81h-1zM1172 427h1v76h-1zM1173 449h1v50h-1z"/>
<path fill="#99ff66" d="M985 472h1v22h-1zM986 472h1v22h-1zM1169 457h1v38h-1zM1170 433h1v68h-1zM1171 425h1v77h-1zM1172 430h1v71h-1zM1173 452h1v45h-1z"/>
<path fill="#b2ff4d" d="M985 475h1v13h-1zM986 475h1v13h-1zM1169 460h1v33h-1zM1170 436h1v64h-1zM1171 428h1v73h-1zM1172 433h1v67h-1zM1173 454h1v41h-1z"/>
<path fill="#cbff34" d="M1169 463h1v26h-1zM1170 439h1v59h-1zM1171 430h1v70h-1zM1172 436h1v63h-1zM1173 457h1v36h-1z"/>
<path fill="#e4ff1b" d="M1169 470h1v14h-1zM1170 442h1v55h-1zM1171 433h1v65h-1zM1172 439h1v58h-1zM1173 460h1v30h-1z"/>
<path fill="#fdff02" d="M1170 445h1v50h-1zM1171 436h1v61h-1zM1172 442h1v54h-1zM1173 463h1v23h-1z"/>
<path fill="#ffe800" d="M1170 448h1v45h-1zM1171 439h1v56h-1zM1172 444h1v50h-1zM1173 474h1v4h-1z"/>
<path fill="#ffcf00" d="M1170 450h1v41h-1zM1171 442h1v52h-1zM1172 447h1v45h-1z"/>
<path fill="#ffb600" d="M1170 453h1v36h-1zM1171 445h1v47h-1zM1172 450h1v40h-1z"/>
<path fill="#ff9d00" d="M1170 456h1v30h-1zM1171 448h1v42h-1zM1172 453h1v35h-1z"/>
<path fill="#ff8300" d="M1170 459h1v23h-1zM1171 452h1v35h-1zM1172 456h1v29h-1z"/>
<path fill="#ff6a00" d="M1170 464h1v10h-1zM1171 455h1v29h-1zM1172 459h1v21h-1z"/>
<path fill="#ff5100" d="M1171 458h1v22h-1z"/>
<path fill="#ff3800" d="M1171 461h1v12h-1z"/>
<rect x="896" y="590" width="524" height="189" fill="rgb(0, 0, 143)"/>
<path fill="#0000a1" d="M896 733h1v19h-1zM897 721h1v33h-1zM898 718h1v36h-1zM899 718h1v36h-1zM900 721h1v33h-1zM901 733h1v19h-1zM929 729h1v29h-1zM930 711h1v49h-1zM931 705h1v55h-1zM932 705h1v55h-1zM933 711h1v49h-1zM934 729h1v29h-1zM954 708h1v22h-1zM955 699h1v33h-1zM956 699h1v33h-1zM957 708h1v22h-1zM960 590h1v22h-1zM961 590h1v22h-1zM972 619h1v65h-1zM973 619h1v65h-1zM979 760h1v11h-1zM980 732h1v47h-1zM981 713h1v66h-1zM982 694h1v85h-1zM983 676h1v103h-1zM984 659h1v120h-1zM985 648h1v131h-1zM986 646h1v133h-1zM987 648h1v131h-1zM988 659h1v120h-1zM989 676h1v103h-1zM990 694h1v85h-1zM991 713h1v66h-1zM992 711h1v68h-1zM993 701h1v74h-1zM994 695h1v79h-1zM995 693h1v81h-1zM996 693h1v81h-1zM997 695h1v79h-1zM998 700h1v74h-1zM999 666h1v108h-1zM1000 650h1v123h-1zM1001 650h1v122h-1zM1002 666h1v101h-1zM1003 719h1v26h-1zM1057 745h1v19h-1zM1058 731h1v35h-1zM1059 723h1v44h-1zM1060 720h1v47h-1zM1061 720h1v47h-1zM1062 723h1v44h-1zM1063 731h1v35h-1zM1064 745h1v19h-1zM1130 733h1v6h-1zM1131 725h1v16h-1zM1132 725h1v16h-1zM1133 733h1v6h-1zM1149 697h1v31h-1zM1150 689h1v42h-1zM1151 697h1v31h-1zM1160 714h1v17h-1zM1161 708h1v24h-1zM1162 714h1v17h-1zM1166 739h1v40h-1zM1167 714h1v65h-1zM1168 689h1v90h-1zM1169 664h1v115h-1zM1170 643h1v136h-1zM1171 639h1v140h-1zM1172 643h1v136h-1zM1173 664h1v115h-1zM1174 689h1v90h-1zM1175 714h1v65h-1zM1176 739h1v40h-1zM1325 659h1v56h-1zM1326 621h1v100h-1zM1327 621h1v100h-1zM1328 659h1v56h-1zM1335 610h1v46h-1zM1336 607h1v50h-1zM1337 615h1v40h-1zM1339 648h1v22h-1zM1340 643h1v29h-1zM1341 653h1v13h-1z"/>
<path fill="#0000ba" d="M897 728h1v23h-1zM898 723h1v29h-1zM899 723h1v29h-1zM900 728h1v23h-1zM930 721h1v36h-1zM931 712h1v46h-1zM932 712h1v46h-1zM933 721h1v36h-1zM955 705h1v24h-1zM956 705h1v24h-1zM960 590h1v20h-1zM961 590h1v20h-1zM972 630h1v48h-1zM973 630h1v48h-1zM980 762h1v1h-1zM981 727h1v51h-1zM982 707h1v72h-1zM983 687h1v92h-1zM984 669h1v110h-1zM985 656h1v123h-1zM986 653h1v126h-1zM987 656h1v123h-1zM988 669h1v110h-1zM989 687h1v92h-1zM990 707h1v72h-1zM991 726h1v52h-1zM992 720h1v53h-1zM993 709h1v63h-1zM994 700h1v73h-1zM995 697h1v76h-1zM996 697h1v76h-1zM997 700h1v73h-1zM998 708h1v64h-1zM999 683h1v88h-1zM1000 661h1v108h-1zM1001 661h1v101h-1zM1002 683h1v66h-1zM1058 738h1v24h-1zM1059 728h1v36h-1zM1060 724h1v41h-1zM1061 724h1v41h-1zM1062 728h1v36h-1zM1063 738h1v24h-1zM1131 729h1v11h-1zM1132 729h1v11h-1zM1150 695h1v31h-1zM1161 712h1v18h-1zM1167 729h1v50h-1zM1168 702h1v77h-1zM1169 675h1v104h-1zM1170 651h1v128h-1zM1171 642h1v137h-1zM1172 651h1v128h-1zM1173 675h1v104h-1zM1174 702h1v77h-1zM1175 729h1v50h-1zM1326 630h1v87h-1zM1327 630h1v87h-1zM1335 617h1v34h-1zM1336 610h1v44h-1zM1337 624h1v23h-1zM1340 647h1v22h-1z"/>
<path fill="#0000d3" d="M897 733h1v13h-1zM898 727h1v22h-1zM899 727h1v22h-1zM900 733h1v13h-1zM930 728h1v25h-1zM931 717h1v39h-1zM932 717h1v39h-1zM933 728h1v25h-1zM955 710h1v15h-1zM956 710h1v15h-1zM960 592h1v16h-1zM961 592h1v16h-1zM972 639h1v31h-1zM973 639h1v31h-1zM981 739h1v33h-1zM982 715h1v62h-1zM983 695h1v84h-1zM984 676h1v103h-1zM985 663h1v116h-1zM986 659h1v120h-1zM987 663h1v116h-1zM988 676h1v103h-1zM989 695h1v84h-1zM990 715h1v62h-1zM991 733h1v40h-1zM992 725h1v45h-1zM993 714h1v56h-1zM994 705h1v66h-1zM995 701h1v70h-1zM996 701h1v70h-1zM997 705h1v66h-1zM998 713h1v57h-1zM999 696h1v73h-1zM1000 669h1v96h-1zM1001 669h1v81h-1zM1002 696h1v41h-1zM1058 747h1v9h-1zM1059 732h1v30h-1zM1060 727h1v36h-1zM1061 727h1v36h-1zM1062 732h1v30h-1zM1063 747h1v9h-1zM1131 733h1v5h-1zM1132 733h1v5h-1zM1150 701h1v19h-1zM1161 716h1v11h-1zM1167 739h1v36h-1zM1168 711h1v68h-1zM1169 682h1v97h-1zM1170 656h1v123h-1zM1171 647h1v132h-1zM1172 656h1v123h-1zM1173 682h1v97h-1zM1174 711h1v68h-1zM1175 739h1v36h-1zM1326 637h1v76h-1zM1327 637h1v76h-1zM1335 623h1v23h-1zM1336 613h1v39h-1zM1340 651h1v14h-1z"/>
<path fill="#0000ec" d="M898 730h1v16h-1zM899 730h1v16h-1zM930 733h1v15h-1zM931 722h1v31h-1zM932 722h1v31h-1zM933 733h1v15h-1zM960 593h1v12h-1zM961 593h1v12h-1zM981 756h1v4h-1zM982 722h1v52h-1zM983 701h1v76h-1zM984 682h1v97h-1zM985 668h1v111h-1zM986 664h1v115h-1zM987 668h1v111h-1zM988 682h1v97h-1zM989 701h1v76h-1zM990 722h1v52h-1zM991 740h1v28h-1zM992 730h1v37h-1zM993 718h1v51h-1zM994 709h1v60h-1zM995 704h1v66h-1zM996 704h1v66h-1zM997 709h1v60h-1zM998 718h1v50h-1zM999 722h1v44h-1zM1000 677h1v80h-1zM1001 677h1v65h-1zM1059 735h1v24h-1zM1060 730h1v31h-1zM1061 730h1v31h-1zM1062 735h1v24h-1zM1167 750h1v20h-1zM1168 718h1v60h-1zM1169 688h1v91h-1zM1170 662h1v117h-1zM1171 651h1v128h-1zM1172 662h1v117h-1zM1173 688h1v91h-1zM1174 718h1v60h-1zM1175 750h1v20h-1zM1326 643h1v66h-1zM1327 643h1v66h-1zM1336 616h1v33h-1z"/>
<path fill="#0006ff" d="M898 734h1v6h-1zM899 734h1v6h-1zM931 727h1v23h-1zM932 727h1v23h-1zM982 727h1v44h-1zM983 706h1v69h-1zM984 687h1v90h-1zM985 673h1v105h-1zM986 669h1v109h-1zM987 673h1v105h-1zM988 687h1v90h-1zM989 706h1v69h-1zM990 727h1v44h-1zM991 748h1v14h-1zM992 733h1v31h-1zM993 721h1v46h-1zM994 712h1v56h-1zM995 708h1v60h-1zM996 708h1v60h-1zM997 712h1v56h-1zM998 721h1v46h-1zM999 730h1v33h-1zM1000 684h1v55h-1zM1001 684h1v50h-1zM1059 738h1v17h-1zM1060 733h1v25h-1zM1061 733h1v25h-1zM1062 738h1v17h-1zM1168 724h1v52h-1zM1169 694h1v84h-1zM1170 667h1v112h-1zM1171 656h1v123h-1zM1172 667h1v112h-1zM1173 694h1v84h-1zM1174 724h1v52h-1zM1326 649h1v56h-1zM1327 649h1v56h-1zM1336 618h1v29h-1z"/>
<path fill="#001fff" d="M931 731h1v15h-1zM932 731h1v15h-1zM982 735h1v32h-1zM983 711h1v62h-1zM984 692h1v83h-1zM985 678h1v98h-1zM986 674h1v102h-1zM987 678h1v98h-1zM988 692h1v83h-1zM989 711h1v62h-1zM990 734h1v33h-1zM992 740h1v20h-1zM993 725h1v40h-1zM994 715h1v51h-1zM995 711h1v56h-1zM996 711h1v56h-1zM997 715h1v51h-1zM998 724h1v41h-1zM999 736h1v23h-1zM1000 691h1v32h-1zM1001 691h1v32h-1zM1060 735h1v20h-1zM1061 735h1v20h-1zM1168 729h1v44h-1zM1169 699h1v78h-1zM1170 671h1v107h-1zM1171 660h1v118h-1zM1172 671h1v107h-1zM1173 699h1v78h-1zM1174 729h1v44h-1zM1326 654h1v46h-1zM1327 654h1v46h-1zM1336 620h1v23h-1z"/>
<path fill="#0038ff" d="M982 744h1v17h-1zM983 715h1v56h-1zM984 696h1v78h-1zM985 682h1v93h-1zM986 678h1v97h-1zM987 682h1v93h-1zM988 696h1v78h-1zM989 715h1v56h-1zM990 743h1v19h-1zM993 728h1v34h-1zM994 718h1v47h-1zM995 714h1v51h-1zM996 714h1v51h-1zM997 718h1v47h-1zM998 728h1v34h-1zM1060 738h1v12h-1zM1061 738h1v12h-1zM1168 735h1v36h-1zM1169 704h1v72h-1zM1170 676h1v101h-1zM1171 665h1v112h-1zM1172 676h1v101h-1zM1173 704h1v72h-1zM1174 735h1v36h-1zM1326 659h1v34h-1zM1327 659h1v34h-1zM1336 623h1v15h-1z"/>
<path fill="#0051ff" d="M983 720h1v49h-1zM984 700h1v72h-1zM985 686h1v87h-1zM986 682h1v92h-1zM987 686h1v87h-1zM988 700h1v72h-1zM989 720h1v49h-1zM993 730h1v30h-1zM994 721h1v42h-1zM995 717h1v47h-1zM996 717h1v47h-1zM997 721h1v42h-1zM998 730h1v30h-1zM1168 740h1v27h-1zM1169 708h1v66h-1zM1170 681h1v95h-1zM1171 670h1v106h-1zM1172 681h1v95h-1zM1173 708h1v66h-1zM1174 740h1v27h-1zM1326 666h1v12h-1zM1327 666h1v12h-1z"/>
<path fill="#006aff" d="M983 724h1v42h-1zM984 704h1v66h-1zM985 690h1v82h-1zM986 687h1v85h-1zM987 690h1v82h-1zM988 704h1v66h-1zM989 724h1v42h-1zM993 733h1v24h-1zM994 724h1v37h-1zM995 719h1v43h-1zM996 719h1v43h-1zM997 724h1v37h-1zM998 733h1v24h-1zM1168 748h1v14h-1zM1169 713h1v60h-1zM1170 685h1v90h-1zM1171 675h1v100h-1zM1172 685h1v90h-1zM1173 713h1v60h-1zM1174 748h1v14h-1z"/>
<path fill="#0083ff" d="M983 727h1v36h-1zM984 708h1v61h-1zM985 694h1v76h-1zM986 691h1v80h-1zM987 694h1v76h-1zM988 708h1v61h-1zM989 727h1v36h-1zM993 740h1v11h-1zM994 726h1v33h-1zM995 722h1v38h-1zM996 722h1v38h-1zM997 726h1v33h-1zM998 740h1v11h-1zM1169 718h1v53h-1zM1170 690h1v83h-1zM1171 680h1v94h-1zM1172 690h1v83h-1zM1173 718h1v53h-1z"/>
<path fill="#009dff" d="M983 733h1v25h-1zM984 712h1v55h-1zM985 698h1v71h-1zM986 695h1v74h-1zM987 698h1v71h-1zM988 712h1v55h-1zM989 733h1v25h-1zM994 729h1v27h-1zM995 725h1v33h-1zM996 725h1v33h-1zM997 729h1v27h-1zM1169 722h1v47h-1zM1170 695h1v77h-1zM1171 685h1v88h-1zM1172 695h1v77h-1zM1173 722h1v47h-1z"/>
<path fill="#00b6ff" d="M984 715h1v49h-1zM985 702h1v65h-1zM986 698h1v70h-1zM987 702h1v65h-1zM988 715h1v49h-1zM994 731h1v22h-1zM995 727h1v29h-1zM996 727h1v29h-1zM997 731h1v22h-1zM1169 726h1v41h-1zM1170 700h1v71h-1zM1171 690h1v81h-1zM1172 700h1v71h-1zM1173 726h1v41h-1z"/>
<path fill="#00cfff" d="M984 719h1v43h-1zM985 706h1v59h-1zM986 702h1v64h-1zM987 706h1v59h-1zM988 719h1v43h-1zM994 734h1v13h-1zM995 730h1v23h-1zM996 730h1v23h-1zM997 734h1v13h-1zM1169 731h1v34h-1zM1170 704h1v65h-1zM1171 695h1v75h-1zM1172 704h1v65h-1zM1173 731h1v34h-1z"/>
<path fill="#00e8ff" d="M984 722h1v37h-1zM985 709h1v54h-1zM986 706h1v58h-1zM987 709h1v54h-1zM988 722h1v37h-1zM995 732h1v16h-1zM996 732h1v16h-1zM1169 735h1v26h-1zM1170 709h1v59h-1zM1171 700h1v69h-1zM1172 709h1v59h-1zM1173 735h1v26h-1z"/>
<path fill="#02fffd" d="M984 726h1v30h-1zM985 713h1v48h-1zM986 710h1v52h-1zM987 713h1v48h-1zM988 726h1v30h-1zM1169 741h1v16h-1zM1170 714h1v52h-1zM1171 705h1v62h-1zM1172 714h1v52h-1zM1173 741h1v16h-1z"/>
<path fill="#1bffe4" d="M984 729h1v21h-1zM985 717h1v42h-1zM986 713h1v47h-1zM987 717h1v42h-1zM988 729h1v21h-1zM1170 719h1v45h-1zM1171 711h1v54h-1zM1172 719h1v45h-1z"/>
<path fill="#34ffcb" d="M985 720h1v36h-1zM986 717h1v40h-1zM987 720h1v36h-1zM1170 724h1v38h-1zM1171 716h1v48h-1zM1172 724h1v38h-1z"/>
<path fill="#4dffb2" d="M985 723h1v29h-1zM986 720h1v34h-1zM987 723h1v29h-1zM1170 729h1v30h-1zM1171 721h1v40h-1zM1172 729h1v30h-1z"/>
<path fill="#66ff99" d="M985 727h1v20h-1zM986 724h1v26h-1zM987 727h1v20h-1zM1170 734h1v22h-1zM1171 727h1v32h-1zM1172 734h1v22h-1z"/>
<path fill="#80ff80" d="M986 727h1v17h-1zM1170 741h1v6h-1zM1171 732h1v23h-1zM1172 741h1v6h-1z"/>
<path fill="#99ff66" d="M1171 737h1v12h-1z"/>
<path d="M203.50 253.5v-5.2M203.50 65.5v5.2M333.75 253.5v-5.2M333.75 65.5v5.2M464.00 253.5v-5.2M464.00 65.5v5.2M594.25 253.5v-5.2M594.25 65.5v5.2M724.50 253.5v-5.2M724.50 65.5v5.2M203.5 65.50h5.2M724.5 65.50h-5.2M203.5 159.50h5.2M724.5 159.50h-5.2M203.5 253.50h5.2M724.5 253.50h-5.2" stroke="#262626" stroke-width="1" fill="none"/>
<rect x="203.5" y="65.5" width="521.0" height="188.0" fill="none" stroke="#262626" stroke-width="1"/>
<text x="194.00" y="73.50" font-size="24.2" fill="#262626" text-anchor="end" textLength="13.55" lengthAdjust="spacingAndGlyphs">2</text>
<text x="194.00" y="167.50" font-size="24.2" fill="#262626" text-anchor="end" textLength="13.55" lengthAdjust="spacingAndGlyphs">0</text>
<text x="194.00" y="261.50" font-size="24.2" fill="#262626" text-anchor="end" textLength="21.24" lengthAdjust="spacingAndGlyphs">-2</text>
<text x="203.50" y="281.50" font-size="24.2" fill="#262626" text-anchor="middle" textLength="63.53" lengthAdjust="spacingAndGlyphs">00:00</text>
<text x="333.75" y="281.50" font-size="24.2" fill="#262626" text-anchor="middle" textLength="63.53" lengthAdjust="spacingAndGlyphs">06:00</text>
<text x="464.00" y="281.50" font-size="24.2" fill="#262626" text-anchor="middle" textLength="63.53" lengthAdjust="spacingAndGlyphs">12:00</text>
<text x="594.25" y="281.50" font-size="24.2" fill="#262626" text-anchor="middle" textLength="63.53" lengthAdjust="spacingAndGlyphs">18:00</text>
<text x="724.50" y="281.50" font-size="24.2" fill="#262626" text-anchor="middle" textLength="63.53" lengthAdjust="spacingAndGlyphs">24:00</text>
<text x="165.30" y="161.00" font-size="22.6" font-weight="bold" fill="#262626" text-anchor="middle" textLength="77.38" lengthAdjust="spacingAndGlyphs" transform="rotate(-90 165.30 161.00)">X (nT)</text>
<path d="M203.50 516.5v-5.2M203.50 327.5v5.2M333.75 516.5v-5.2M333.75 327.5v5.2M464.00 516.5v-5.2M464.00 327.5v5.2M594.25 516.5v-5.2M594.25 327.5v5.2M724.50 516.5v-5.2M724.50 327.5v5.2M203.5 327.50h5.2M724.5 327.50h-5.2M203.5 422.00h5.2M724.5 422.00h-5.2M203.5 516.50h5.2M724.5 516.50h-5.2" stroke="#262626" stroke-width="1" fill="none"/>
<rect x="203.5" y="327.5" width="521.0" height="189.0" fill="none" stroke="#262626" stroke-width="1"/>
<text x="194.00" y="335.50" font-size="24.2" fill="#262626" text-anchor="end" textLength="13.55" lengthAdjust="spacingAndGlyphs">1</text>
<text x="194.00" y="430.00" font-size="24.2" fill="#262626" text-anchor="end" textLength="13.55" lengthAdjust="spacingAndGlyphs">0</text>
<text x="194.00" y="524.50" font-size="24.2" fill="#262626" text-anchor="end" textLength="21.24" lengthAdjust="spacingAndGlyphs">-1</text>
<text x="203.50" y="544.50" font-size="24.2" fill="#262626" text-anchor="middle" textLength="63.53" lengthAdjust="spacingAndGlyphs">00:00</text>
<text x="333.75" y="544.50" font-size="24.2" fill="#262626" text-anchor="middle" textLength="63.53" lengthAdjust="spacingAndGlyphs">06:00</text>
<text x="464.00" y="544.50" font-size="24.2" fill="#262626" text-anchor="middle" textLength="63.53" lengthAdjust="spacingAndGlyphs">12:00</text>
<text x="594.25" y="544.50" font-size="24.2" fill="#262626" text-anchor="middle" textLength="63.53" lengthAdjust="spacingAndGlyphs">18:00</text>
<text x="724.50" y="544.50" font-size="24.2" fill="#262626" text-anchor="middle" textLength="63.53" lengthAdjust="spacingAndGlyphs">24:00</text>
<text x="165.30" y="423.50" font-size="22.6" font-weight="bold" fill="#262626" text-anchor="middle" textLength="76.32" lengthAdjust="spacingAndGlyphs" transform="rotate(-90 165.30 423.50)">Y (nT)</text>
<path d="M203.50 778.5v-5.2M203.50 589.5v5.2M333.75 778.5v-5.2M333.75 589.5v5.2M464.00 778.5v-5.2M464.00 589.5v5.2M594.25 778.5v-5.2M594.25 589.5v5.2M724.50 778.5v-5.2M724.50 589.5v5.2M203.5 589.50h5.2M724.5 589.50h-5.2M203.5 652.50h5.2M724.5 652.50h-5.2M203.5 715.50h5.2M724.5 715.50h-5.2M203.5 778.50h5.2M724.5 778.50h-5.2" stroke="#262626" stroke-width="1" fill="none"/>
<rect x="203.5" y="589.5" width="521.0" height="189.0" fill="none" stroke="#262626" stroke-width="1"/>
<path d="M204.0 146.9L205.0 143.3L206.0 143.9L207.0 148.6L208.0 149.1L209.0 149.2L210.0 147.0L211.0 148.0L212.0 147.8L213.0 152.3L214.0 146.5L215.0 148.7L216.0 148.4L217.0 150.2L218.0 151.0L219.0 149.5L220.0 149.1L221.0 151.3L222.0 151.5L223.0 150.8L224.0 152.6L225.0 154.7L226.0 152.0L227.0 153.5L228.0 154.7L229.0 154.0L230.0 153.2L231.0 154.4L232.0 154.5L233.0 151.5L234.0 149.7L235.0 151.6L236.0 152.5L237.0 150.3L238.0 149.5L239.0 151.0L240.0 146.6L241.0 147.3L242.0 151.0L243.0 152.2L244.0 150.0L245.0 149.3L246.0 148.5L247.0 152.8L248.0 152.5L249.0 152.9L250.0 153.6L251.0 150.2L252.0 147.5L253.0 150.6L254.0 146.7L255.0 147.0L256.0 141.2L257.0 144.2L258.0 147.8L259.0 151.8L260.0 148.3L261.0 148.4L262.0 152.9L263.0 149.3L264.0 149.2L265.0 147.5L266.0 149.7L267.0 141.2L268.0 148.4L269.0 150.5L270.0 147.7L271.0 148.4L272.0 147.7L273.0 149.0L274.0 145.7L275.0 146.5L276.0 148.3L277.0 146.3L278.0 144.0L279.0 144.1L280.0 151.1L281.0 146.8L282.0 146.9L283.0 149.0L284.0 150.4L285.0 146.4L286.0 150.7L287.0 147.0L288.0 145.2L289.0 151.8L290.0 150.7L291.0 151.8L292.0 147.7L293.0 143.5L294.0 143.5L295.0 144.8L296.0 150.6L297.0 146.7L298.0 144.8L299.0 147.9L300.0 150.9L301.0 149.4L302.0 149.9L303.0 150.9L304.0 151.8L305.0 149.9L306.0 150.0L307.0 151.1L308.0 152.1L309.0 154.0L310.0 146.2L311.0 150.0L312.0 152.4L313.0 152.6L314.0 150.6L315.0 150.8L316.0 149.3L317.0 152.1L318.0 153.9L319.0 154.7L320.0 150.5L321.0 148.8L322.0 153.5L323.0 153.9L324.0 152.5L325.0 154.1L326.0 153.7L327.0 153.5L328.0 152.5L329.0 151.4L330.0 152.5L331.0 151.9L332.0 153.4L333.0 153.4L334.0 155.5L335.0 155.5L336.0 152.7L337.0 153.7L338.0 152.5L339.0 152.0L340.0 151.1L341.0 151.6L342.0 151.8L343.0 153.4L344.0 154.5L345.0 154.6L346.0 154.4L347.0 155.0L348.0 154.2L349.0 153.2L350.0 152.6L351.0 153.8L352.0 155.3L353.0 153.3L354.0 151.9L355.0 150.5L356.0 151.4L357.0 153.5L358.0 153.1L359.0 149.0L360.0 149.7L361.0 148.1L362.0 147.8L363.0 152.5L364.0 151.4L365.0 150.7L366.0 144.2L367.0 150.5L368.0 151.0L369.0 151.7L370.0 154.2L371.0 152.5L372.0 152.7L373.0 151.5L374.0 151.8L375.0 149.8L376.0 149.2L377.0 150.0L378.0 143.8L379.0 150.8L380.0 151.7L381.0 151.5L382.0 151.6L383.0 150.1L384.0 150.2L385.0 149.9L386.0 152.6L387.0 149.4L388.0 151.9L389.0 152.2L390.0 151.2L391.0 151.3L392.0 149.9L393.0 148.6L394.0 152.9L395.0 151.6L396.0 147.3L397.0 149.6L398.0 152.3L399.0 150.8L400.0 152.3L401.0 146.8L402.0 151.9L403.0 148.7L404.0 148.5L405.0 152.3L406.0 148.7L407.0 146.4L408.0 147.4L409.0 147.2L410.0 146.5L411.0 147.9L412.0 148.0L413.0 148.6L414.0 147.7L415.0 150.3L416.0 147.3L417.0 149.9L418.0 151.3L419.0 147.2L420.0 143.3L421.0 143.1L422.0 148.7L423.0 146.9L424.0 149.1L425.0 148.7L426.0 149.3L427.0 152.5L428.0 149.5L429.0 151.2L430.0 151.4L431.0 152.5L432.0 152.6L433.0 151.1L434.0 145.5L435.0 143.7L436.0 147.1L437.0 145.8L438.0 148.6L439.0 152.6L440.0 148.8L441.0 147.5L442.0 149.2L443.0 147.7L444.0 147.4L445.0 143.1L446.0 152.7L447.0 150.0L448.0 149.4L449.0 149.1L450.0 145.5L451.0 144.1L452.0 148.5L453.0 146.7L454.0 145.7L455.0 146.0L456.0 146.0L457.0 148.8L458.0 146.1L459.0 143.0L460.0 146.1L461.0 149.6L462.0 145.7L463.0 145.3L464.0 140.8L465.0 149.3L466.0 146.0L467.0 150.9L468.0 143.2L469.0 149.3L470.0 142.3L471.0 146.4L472.0 148.1L473.0 151.3L474.0 148.3L475.0 150.7L476.0 153.0L477.0 151.5L478.0 148.5L479.0 147.5L480.0 148.6L481.0 124.2L482.0 148.4L483.0 108.8L484.0 147.0L485.0 148.7L486.0 148.8L487.0 149.0L488.0 152.3L489.0 151.3L490.0 147.0L491.0 148.9L492.0 140.2L493.0 150.0L494.0 151.2L495.0 150.4L496.0 151.7L497.0 151.0L498.0 153.3L499.0 149.1L500.0 152.0L501.0 154.2L502.0 152.3L503.0 149.9L504.0 151.6L505.0 153.3L506.0 149.8L507.0 145.6L508.0 152.5L509.0 151.7L510.0 150.1L511.0 152.3L512.0 154.8L513.0 154.4L514.0 151.7L515.0 151.6L516.0 149.8L517.0 152.9L518.0 151.5L519.0 148.2L520.0 153.2L521.0 154.3L522.0 153.1L523.0 152.7L524.0 151.7L525.0 152.8L526.0 154.1L527.0 152.4L528.0 149.2L529.0 151.7L530.0 155.7L531.0 154.7L532.0 154.6L533.0 153.1L534.0 153.2L535.0 151.0L536.0 151.8L537.0 152.3L538.0 153.2L539.0 153.6L540.0 153.0L541.0 151.8L542.0 152.8L543.0 153.7L544.0 152.2L545.0 153.2L546.0 154.0L547.0 154.8L548.0 154.9L549.0 155.5L550.0 155.9L551.0 153.1L552.0 152.9L553.0 153.2L554.0 152.4L555.0 152.9L556.0 153.9L557.0 155.9L558.0 154.6L559.0 152.9L560.0 151.3L561.0 150.8L562.0 151.9L563.0 155.5L564.0 156.0L565.0 153.7L566.0 153.5L567.0 150.4L568.0 153.8L569.0 154.1L570.0 155.6L571.0 153.9L572.0 154.3L573.0 153.5L574.0 153.4L575.0 153.9L576.0 153.6L577.0 153.8L578.0 153.0L579.0 153.3L580.0 154.7L581.0 154.5L582.0 152.1L583.0 153.5L584.0 152.8L585.0 152.9L586.0 154.8L587.0 155.1L588.0 154.1L589.0 153.6L590.0 153.6L591.0 155.6L592.0 155.1L593.0 154.0L594.0 152.8L595.0 156.1L596.0 154.3L597.0 154.6L598.0 153.8L599.0 154.4L600.0 152.7L601.0 151.7L602.0 152.8L603.0 152.9L604.0 153.2L605.0 154.2L606.0 152.9L607.0 153.7L608.0 153.7L609.0 153.5L610.0 153.2L611.0 151.9L612.0 152.8L613.0 153.1L614.0 150.3L615.0 150.2L616.0 150.0L617.0 151.1L618.0 152.4L619.0 153.0L620.0 152.4L621.0 150.5L622.0 151.9L623.0 154.4L624.0 152.9L625.0 154.1L626.0 152.2L627.0 154.1L628.0 154.1L629.0 151.6L630.0 152.0L631.0 154.0L632.0 149.4L633.0 147.1L634.0 152.2L635.0 148.0L636.0 151.5L637.0 152.0L638.0 151.7L639.0 137.9L640.0 148.0L641.0 149.0L642.0 151.7L643.0 151.6L644.0 153.5L645.0 150.9L646.0 148.6L647.0 153.4L648.0 151.6L649.0 140.8L650.0 147.4L651.0 147.3L652.0 151.2L653.0 152.1L654.0 145.8L655.0 151.5L656.0 151.3L657.0 148.5L658.0 147.5L659.0 150.3L660.0 151.5L661.0 151.3L662.0 154.6L663.0 152.0L664.0 152.9L665.0 148.1L666.0 150.1L667.0 151.9L668.0 153.5L669.0 155.1L670.0 151.4L671.0 150.3L672.0 153.3L673.0 152.0L674.0 152.3L675.0 154.9L676.0 152.1L677.0 151.3L678.0 152.9L679.0 153.5L680.0 153.2L681.0 155.6L682.0 154.1L683.0 153.2L684.0 155.2L685.0 153.7L686.0 155.2L687.0 156.4L688.0 155.5L689.0 155.8L690.0 155.1L691.0 155.9L692.0 154.4L693.0 155.5L694.0 155.0L695.0 155.6L696.0 154.1L697.0 153.9L698.0 154.7L699.0 155.6L700.0 156.1L701.0 154.0L702.0 154.2L703.0 155.2L704.0 155.1L705.0 156.2L706.0 156.4L707.0 156.0L708.0 154.8L709.0 154.8L710.0 155.6L711.0 154.3L712.0 154.1L713.0 154.5L714.0 154.1L715.0 155.2L716.0 155.1L717.0 154.6L718.0 154.8L719.0 154.5L720.0 155.8L721.0 154.1L722.0 155.6L723.0 155.6L724.0 156.4L724.0 162.8L723.0 162.8L722.0 166.7L721.0 164.8L720.0 164.7L719.0 163.6L718.0 162.9L717.0 164.2L716.0 162.2L715.0 163.0L714.0 163.8L713.0 163.5L712.0 164.8L711.0 164.2L710.0 164.1L709.0 162.6L708.0 162.9L707.0 165.2L706.0 163.4L705.0 164.1L704.0 164.2L703.0 163.4L702.0 163.4L701.0 164.1L700.0 162.8L699.0 163.5L698.0 164.7L697.0 165.8L696.0 163.5L695.0 164.9L694.0 164.9L693.0 164.6L692.0 163.5L691.0 162.1L690.0 162.1L689.0 162.2L688.0 165.6L687.0 164.9L686.0 164.9L685.0 165.9L684.0 164.3L683.0 164.4L682.0 163.9L681.0 164.7L680.0 164.2L679.0 165.8L678.0 164.6L677.0 164.8L676.0 165.8L675.0 165.5L674.0 167.3L673.0 167.0L672.0 166.9L671.0 168.1L670.0 167.0L669.0 168.3L668.0 166.5L667.0 163.9L666.0 163.6L665.0 165.9L664.0 169.1L663.0 164.5L662.0 164.7L661.0 168.0L660.0 168.5L659.0 168.1L658.0 165.2L657.0 168.6L656.0 167.4L655.0 169.4L654.0 171.5L653.0 170.9L652.0 169.4L651.0 166.9L650.0 167.4L649.0 181.1L648.0 167.3L647.0 171.3L646.0 167.4L645.0 168.7L644.0 170.8L643.0 167.9L642.0 169.0L641.0 167.6L640.0 167.0L639.0 181.1L638.0 168.8L637.0 166.6L636.0 164.2L635.0 165.1L634.0 168.7L633.0 168.1L632.0 167.8L631.0 168.6L630.0 164.5L629.0 167.4L628.0 170.0L627.0 171.2L626.0 166.1L625.0 166.7L624.0 165.8L623.0 166.1L622.0 167.2L621.0 166.0L620.0 167.3L619.0 166.5L618.0 166.8L617.0 167.5L616.0 170.2L615.0 167.4L614.0 163.6L613.0 165.9L612.0 165.0L611.0 166.8L610.0 168.2L609.0 165.9L608.0 165.6L607.0 165.5L606.0 164.2L605.0 165.4L604.0 164.9L603.0 165.6L602.0 165.1L601.0 166.3L600.0 164.8L599.0 162.6L598.0 162.9L597.0 166.6L596.0 165.0L595.0 164.2L594.0 165.0L593.0 164.4L592.0 163.6L591.0 163.6L590.0 163.1L589.0 162.7L588.0 162.1L587.0 164.5L586.0 163.9L585.0 161.9L584.0 162.0L583.0 165.4L582.0 167.1L581.0 165.5L580.0 163.9L579.0 161.9L578.0 162.5L577.0 161.9L576.0 163.9L575.0 162.6L574.0 161.9L573.0 163.1L572.0 163.2L571.0 165.1L570.0 165.5L569.0 165.4L568.0 165.7L567.0 163.7L566.0 161.9L565.0 162.4L564.0 164.8L563.0 163.7L562.0 163.1L561.0 163.2L560.0 163.2L559.0 163.7L558.0 164.8L557.0 164.2L556.0 164.9L555.0 164.0L554.0 163.6L553.0 165.5L552.0 164.0L551.0 164.8L550.0 162.5L549.0 165.5L548.0 164.2L547.0 163.4L546.0 161.9L545.0 163.9L544.0 165.3L543.0 164.7L542.0 196.8L541.0 165.3L540.0 166.6L539.0 164.4L538.0 164.2L537.0 164.0L536.0 162.8L535.0 162.4L534.0 163.9L533.0 164.1L532.0 163.7L531.0 163.6L530.0 163.3L529.0 164.0L528.0 165.3L527.0 164.3L526.0 165.0L525.0 164.9L524.0 166.5L523.0 166.6L522.0 165.7L521.0 166.9L520.0 166.0L519.0 164.5L518.0 166.4L517.0 166.9L516.0 166.2L515.0 164.3L514.0 166.2L513.0 167.3L512.0 166.0L511.0 167.0L510.0 167.0L509.0 166.4L508.0 168.0L507.0 166.3L506.0 164.4L505.0 166.9L504.0 166.9L503.0 164.5L502.0 166.3L501.0 165.5L500.0 164.4L499.0 166.4L498.0 165.4L497.0 164.3L496.0 169.6L495.0 167.5L494.0 164.5L493.0 182.2L492.0 169.2L491.0 167.6L490.0 167.2L489.0 165.5L488.0 167.5L487.0 167.3L486.0 183.7L485.0 171.8L484.0 171.9L483.0 208.8L482.0 173.4L481.0 171.1L480.0 189.2L479.0 166.2L478.0 168.0L477.0 168.8L476.0 185.2L475.0 174.8L474.0 167.7L473.0 169.5L472.0 173.0L471.0 186.8L470.0 168.4L469.0 165.6L468.0 165.6L467.0 165.6L466.0 182.2L465.0 169.8L464.0 171.9L463.0 169.3L462.0 171.2L461.0 169.4L460.0 184.7L459.0 165.5L458.0 168.3L457.0 171.1L456.0 172.1L455.0 167.4L454.0 168.3L453.0 169.4L452.0 168.9L451.0 167.5L450.0 171.3L449.0 173.3L448.0 168.7L447.0 167.7L446.0 181.8L445.0 172.9L444.0 172.9L443.0 166.3L442.0 167.5L441.0 169.5L440.0 170.3L439.0 168.1L438.0 169.4L437.0 168.2L436.0 170.5L435.0 170.0L434.0 169.3L433.0 166.0L432.0 169.8L431.0 168.4L430.0 165.3L429.0 173.2L428.0 172.3L427.0 169.6L426.0 167.7L425.0 173.6L424.0 172.0L423.0 166.2L422.0 176.7L421.0 167.2L420.0 170.2L419.0 168.4L418.0 169.5L417.0 171.2L416.0 165.2L415.0 165.2L414.0 166.4L413.0 169.2L412.0 168.7L411.0 168.6L410.0 179.2L409.0 169.7L408.0 167.3L407.0 171.4L406.0 168.2L405.0 167.2L404.0 165.5L403.0 169.5L402.0 168.0L401.0 167.4L400.0 165.9L399.0 167.7L398.0 175.2L397.0 166.3L396.0 170.3L395.0 168.3L394.0 169.2L393.0 169.2L392.0 166.6L391.0 168.9L390.0 168.1L389.0 166.3L388.0 170.0L387.0 168.2L386.0 166.4L385.0 172.2L384.0 166.2L383.0 167.5L382.0 168.1L381.0 167.0L380.0 174.6L379.0 171.7L378.0 168.6L377.0 167.3L376.0 167.7L375.0 167.8L374.0 167.1L373.0 169.0L372.0 166.4L371.0 167.8L370.0 165.8L369.0 165.5L368.0 168.1L367.0 167.4L366.0 169.6L365.0 168.3L364.0 171.6L363.0 173.3L362.0 168.0L361.0 167.2L360.0 166.6L359.0 168.9L358.0 169.5L357.0 167.4L356.0 164.0L355.0 165.1L354.0 169.0L353.0 165.9L352.0 163.5L351.0 166.0L350.0 167.7L349.0 164.7L348.0 166.1L347.0 163.9L346.0 163.2L345.0 163.8L344.0 166.6L343.0 164.8L342.0 165.6L341.0 166.5L340.0 168.5L339.0 166.3L338.0 166.4L337.0 166.0L336.0 165.0L335.0 165.0L334.0 166.0L333.0 166.0L332.0 165.7L331.0 165.2L330.0 164.0L329.0 165.5L328.0 166.1L327.0 169.2L326.0 164.7L325.0 164.4L324.0 166.0L323.0 168.1L322.0 168.2L321.0 169.4L320.0 165.0L319.0 165.7L318.0 168.4L317.0 169.2L316.0 169.3L315.0 170.0L314.0 168.6L313.0 170.0L312.0 166.6L311.0 169.8L310.0 173.5L309.0 169.4L308.0 170.7L307.0 170.7L306.0 173.4L305.0 168.8L304.0 165.9L303.0 167.6L302.0 168.9L301.0 176.9L300.0 169.4L299.0 170.2L298.0 170.2L297.0 170.9L296.0 171.5L295.0 166.5L294.0 166.9L293.0 171.6L292.0 169.3L291.0 167.8L290.0 173.3L289.0 170.6L288.0 169.8L287.0 170.1L286.0 171.6L285.0 169.4L284.0 172.4L283.0 170.8L282.0 168.4L281.0 170.9L280.0 172.6L279.0 166.8L278.0 165.4L277.0 171.9L276.0 170.1L275.0 171.3L274.0 170.7L273.0 170.1L272.0 171.7L271.0 172.0L270.0 171.2L269.0 172.0L268.0 169.7L267.0 168.7L266.0 181.2L265.0 170.2L264.0 167.8L263.0 166.6L262.0 170.9L261.0 167.4L260.0 169.9L259.0 170.1L258.0 167.9L257.0 167.8L256.0 171.6L255.0 172.2L254.0 167.3L253.0 165.3L252.0 165.1L251.0 165.9L250.0 164.9L249.0 170.6L248.0 175.2L247.0 167.5L246.0 164.8L245.0 176.2L244.0 170.1L243.0 165.7L242.0 170.7L241.0 166.4L240.0 167.6L239.0 165.4L238.0 167.7L237.0 165.5L236.0 168.0L235.0 169.2L234.0 170.1L233.0 166.7L232.0 166.0L231.0 166.4L230.0 167.5L229.0 165.9L228.0 166.3L227.0 167.6L226.0 165.6L225.0 163.7L224.0 165.3L223.0 163.8L222.0 166.4L221.0 165.5L220.0 166.9L219.0 167.5L218.0 167.8L217.0 168.6L216.0 169.0L215.0 165.9L214.0 167.5L213.0 169.6L212.0 170.8L211.0 168.9L210.0 172.8L209.0 170.6L208.0 170.2L207.0 170.3L206.0 168.7L205.0 170.5L204.0 171.1Z" fill="#0000ff" stroke="#0000ff" stroke-width="1.5" stroke-linejoin="round"/>
<path d="M204.0 388.8L205.0 395.7L206.0 396.2L207.0 395.7L208.0 394.1L209.0 406.4L210.0 403.5L211.0 408.8L212.0 402.9L213.0 397.8L214.0 401.2L215.0 402.2L216.0 410.2L217.0 404.8L218.0 405.5L219.0 395.7L220.0 397.4L221.0 399.0L222.0 402.8L223.0 401.0L224.0 401.3L225.0 405.7L226.0 407.0L227.0 406.1L228.0 407.9L229.0 408.1L230.0 407.4L231.0 407.9L232.0 403.3L233.0 410.6L234.0 404.6L235.0 408.3L236.0 409.4L237.0 411.3L238.0 407.2L239.0 406.2L240.0 404.8L241.0 406.7L242.0 403.1L243.0 396.4L244.0 401.3L245.0 403.1L246.0 399.8L247.0 402.6L248.0 400.1L249.0 400.0L250.0 405.6L251.0 409.9L252.0 405.0L253.0 400.0L254.0 402.5L255.0 388.8L256.0 394.7L257.0 401.5L258.0 393.6L259.0 390.1L260.0 390.7L261.0 391.8L262.0 390.6L263.0 386.4L264.0 396.0L265.0 398.2L266.0 386.8L267.0 404.6L268.0 407.5L269.0 404.4L270.0 396.3L271.0 396.3L272.0 406.9L273.0 406.8L274.0 389.8L275.0 398.3L276.0 396.2L277.0 390.8L278.0 387.5L279.0 392.1L280.0 392.8L281.0 396.6L282.0 375.8L283.0 394.0L284.0 389.1L285.0 388.1L286.0 388.3L287.0 385.4L288.0 390.0L289.0 405.0L290.0 400.8L291.0 391.8L292.0 392.3L293.0 402.2L294.0 376.8L295.0 396.8L296.0 397.1L297.0 393.3L298.0 392.6L299.0 402.5L300.0 391.8L301.0 395.6L302.0 401.3L303.0 377.8L304.0 406.5L305.0 403.1L306.0 397.7L307.0 401.6L308.0 400.3L309.0 398.7L310.0 396.6L311.0 392.3L312.0 397.5L313.0 390.8L314.0 393.6L315.0 387.2L316.0 397.9L317.0 387.0L318.0 405.6L319.0 393.3L320.0 392.1L321.0 392.2L322.0 399.4L323.0 404.6L324.0 396.0L325.0 396.6L326.0 405.6L327.0 408.5L328.0 400.3L329.0 399.0L330.0 389.4L331.0 402.4L332.0 404.8L333.0 404.4L334.0 409.7L335.0 406.3L336.0 395.7L337.0 402.1L338.0 406.7L339.0 408.5L340.0 401.0L341.0 391.0L342.0 402.0L343.0 404.7L344.0 402.4L345.0 402.6L346.0 406.0L347.0 403.9L348.0 411.1L349.0 411.2L350.0 403.2L351.0 406.1L352.0 409.0L353.0 403.2L354.0 399.6L355.0 401.6L356.0 402.6L357.0 400.7L358.0 403.2L359.0 409.0L360.0 405.3L361.0 400.5L362.0 408.1L363.0 405.6L364.0 406.9L365.0 409.4L366.0 409.4L367.0 404.9L368.0 403.2L369.0 404.5L370.0 410.6L371.0 406.9L372.0 402.9L373.0 400.3L374.0 400.8L375.0 400.2L376.0 399.3L377.0 401.5L378.0 407.1L379.0 406.0L380.0 409.7L381.0 411.5L382.0 411.6L383.0 399.0L384.0 390.8L385.0 411.6L386.0 408.0L387.0 399.7L388.0 403.8L389.0 403.8L390.0 389.1L391.0 404.8L392.0 399.8L393.0 401.3L394.0 404.3L395.0 401.1L396.0 400.7L397.0 405.3L398.0 404.5L399.0 404.9L400.0 407.2L401.0 402.1L402.0 406.1L403.0 409.6L404.0 412.1L405.0 410.9L406.0 401.7L407.0 409.0L408.0 405.8L409.0 407.0L410.0 403.9L411.0 404.5L412.0 409.2L413.0 408.2L414.0 405.8L415.0 406.4L416.0 407.1L417.0 407.7L418.0 404.2L419.0 401.8L420.0 405.0L421.0 407.1L422.0 406.5L423.0 406.7L424.0 401.2L425.0 401.3L426.0 407.2L427.0 408.5L428.0 410.9L429.0 409.8L430.0 409.0L431.0 403.0L432.0 406.5L433.0 408.6L434.0 403.3L435.0 410.8L436.0 405.9L437.0 403.9L438.0 406.3L439.0 409.2L440.0 409.5L441.0 396.8L442.0 408.1L443.0 413.8L444.0 411.6L445.0 408.7L446.0 411.2L447.0 413.5L448.0 408.7L449.0 410.0L450.0 404.8L451.0 402.5L452.0 407.7L453.0 413.0L454.0 409.9L455.0 410.0L456.0 404.1L457.0 400.2L458.0 403.0L459.0 398.0L460.0 398.1L461.0 403.3L462.0 408.7L463.0 406.9L464.0 409.9L465.0 402.3L466.0 402.8L467.0 399.3L468.0 404.0L469.0 411.3L470.0 402.6L471.0 398.7L472.0 397.5L473.0 407.2L474.0 408.2L475.0 405.0L476.0 408.9L477.0 410.8L478.0 406.8L479.0 393.7L480.0 404.4L481.0 408.2L482.0 369.8L483.0 402.3L484.0 396.8L485.0 397.5L486.0 399.2L487.0 402.5L488.0 403.4L489.0 407.4L490.0 406.4L491.0 397.2L492.0 403.4L493.0 400.7L494.0 391.8L495.0 405.1L496.0 406.2L497.0 410.2L498.0 405.8L499.0 402.7L500.0 401.0L501.0 401.7L502.0 400.6L503.0 403.3L504.0 406.6L505.0 412.1L506.0 407.9L507.0 391.8L508.0 403.6L509.0 403.1L510.0 406.7L511.0 407.2L512.0 399.1L513.0 402.5L514.0 400.5L515.0 403.6L516.0 408.8L517.0 412.8L518.0 409.1L519.0 413.0L520.0 412.5L521.0 404.0L522.0 403.6L523.0 402.5L524.0 406.7L525.0 407.1L526.0 405.8L527.0 406.4L528.0 406.4L529.0 406.4L530.0 395.8L531.0 406.3L532.0 408.2L533.0 404.0L534.0 403.2L535.0 408.7L536.0 404.5L537.0 404.5L538.0 409.4L539.0 409.4L540.0 397.8L541.0 413.0L542.0 410.2L543.0 407.3L544.0 409.8L545.0 413.0L546.0 396.8L547.0 401.5L548.0 401.8L549.0 407.3L550.0 410.1L551.0 407.8L552.0 407.6L553.0 409.7L554.0 408.4L555.0 404.6L556.0 405.2L557.0 412.8L558.0 405.2L559.0 405.2L560.0 403.0L561.0 406.0L562.0 404.4L563.0 403.1L564.0 412.8L565.0 403.4L566.0 406.5L567.0 412.7L568.0 412.7L569.0 408.4L570.0 409.5L571.0 403.8L572.0 405.3L573.0 406.3L574.0 403.0L575.0 404.6L576.0 403.1L577.0 402.7L578.0 404.1L579.0 402.7L580.0 396.2L581.0 410.9L582.0 408.3L583.0 407.1L584.0 391.8L585.0 412.2L586.0 409.1L587.0 405.0L588.0 403.9L589.0 400.5L590.0 405.5L591.0 408.3L592.0 408.5L593.0 407.8L594.0 409.6L595.0 411.9L596.0 404.9L597.0 400.6L598.0 401.3L599.0 408.9L600.0 405.5L601.0 398.4L602.0 404.0L603.0 404.1L604.0 404.7L605.0 400.6L606.0 398.7L607.0 394.7L608.0 389.8L609.0 403.8L610.0 408.5L611.0 408.0L612.0 408.2L613.0 387.4L614.0 409.3L615.0 401.7L616.0 407.7L617.0 405.3L618.0 409.2L619.0 402.9L620.0 398.4L621.0 406.4L622.0 404.0L623.0 404.6L624.0 403.4L625.0 403.5L626.0 407.3L627.0 406.7L628.0 403.8L629.0 409.7L630.0 409.8L631.0 400.3L632.0 406.8L633.0 402.8L634.0 403.3L635.0 391.8L636.0 402.7L637.0 407.4L638.0 402.5L639.0 374.8L640.0 407.8L641.0 410.3L642.0 406.9L643.0 396.9L644.0 406.3L645.0 410.1L646.0 403.7L647.0 405.8L648.0 388.2L649.0 411.3L650.0 412.1L651.0 411.1L652.0 411.6L653.0 412.1L654.0 412.0L655.0 409.8L656.0 403.4L657.0 402.6L658.0 404.2L659.0 408.8L660.0 411.1L661.0 405.9L662.0 396.1L663.0 402.5L664.0 405.9L665.0 405.6L666.0 406.2L667.0 410.3L668.0 409.7L669.0 405.9L670.0 410.8L671.0 404.5L672.0 397.8L673.0 405.1L674.0 406.0L675.0 410.6L676.0 408.3L677.0 407.6L678.0 404.8L679.0 405.1L680.0 405.3L681.0 400.1L682.0 404.1L683.0 408.2L684.0 409.5L685.0 408.1L686.0 402.9L687.0 401.7L688.0 404.5L689.0 408.4L690.0 410.5L691.0 408.3L692.0 408.1L693.0 402.5L694.0 403.7L695.0 406.9L696.0 406.9L697.0 413.0L698.0 406.2L699.0 406.6L700.0 402.9L701.0 407.3L702.0 408.9L703.0 403.7L704.0 408.4L705.0 403.0L706.0 405.2L707.0 405.6L708.0 406.1L709.0 407.9L710.0 405.7L711.0 405.1L712.0 401.1L713.0 405.6L714.0 406.2L715.0 408.7L716.0 409.0L717.0 407.6L718.0 402.9L719.0 405.3L720.0 403.9L721.0 407.5L722.0 409.8L723.0 413.0L724.0 405.6L724.0 440.2L723.0 438.4L722.0 443.8L721.0 437.4L720.0 436.1L719.0 433.5L718.0 443.4L717.0 447.2L716.0 451.7L715.0 436.1L714.0 433.8L713.0 440.9L712.0 440.2L711.0 443.4L710.0 441.0L709.0 439.4L708.0 434.5L707.0 439.1L706.0 438.3L705.0 439.3L704.0 443.1L703.0 443.6L702.0 443.4L701.0 436.2L700.0 441.3L699.0 448.6L698.0 438.7L697.0 441.7L696.0 441.7L695.0 439.3L694.0 444.5L693.0 441.3L692.0 440.5L691.0 441.0L690.0 440.5L689.0 441.5L688.0 437.1L687.0 437.1L686.0 436.7L685.0 439.8L684.0 443.3L683.0 442.0L682.0 437.1L681.0 434.8L680.0 437.3L679.0 445.7L678.0 441.2L677.0 440.8L676.0 440.2L675.0 441.0L674.0 437.5L673.0 441.3L672.0 449.2L671.0 445.0L670.0 442.0L669.0 440.3L668.0 437.1L667.0 441.6L666.0 442.7L665.0 435.3L664.0 434.1L663.0 434.3L662.0 433.0L661.0 443.0L660.0 444.9L659.0 442.3L658.0 436.3L657.0 433.1L656.0 433.1L655.0 441.7L654.0 435.7L653.0 433.1L652.0 440.1L651.0 448.7L650.0 445.7L649.0 453.2L648.0 439.3L647.0 439.6L646.0 437.5L645.0 444.5L644.0 442.4L643.0 440.5L642.0 455.2L641.0 437.1L640.0 438.9L639.0 468.2L638.0 445.3L637.0 438.4L636.0 435.7L635.0 443.0L634.0 437.2L633.0 441.8L632.0 436.6L631.0 438.1L630.0 437.6L629.0 435.5L628.0 433.9L627.0 440.5L626.0 447.1L625.0 443.6L624.0 437.6L623.0 439.9L622.0 444.5L621.0 441.1L620.0 446.1L619.0 438.3L618.0 434.6L617.0 441.5L616.0 440.1L615.0 437.1L614.0 438.4L613.0 447.5L612.0 444.1L611.0 445.1L610.0 453.2L609.0 439.3L608.0 443.1L607.0 438.3L606.0 444.6L605.0 441.9L604.0 449.9L603.0 451.2L602.0 439.9L601.0 442.9L600.0 446.2L599.0 451.8L598.0 445.3L597.0 451.5L596.0 447.0L595.0 439.8L594.0 443.4L593.0 441.9L592.0 439.8L591.0 436.6L590.0 432.7L589.0 440.3L588.0 438.6L587.0 436.1L586.0 432.8L585.0 452.2L584.0 432.8L583.0 437.4L582.0 437.2L581.0 432.5L580.0 434.2L579.0 432.4L578.0 432.4L577.0 434.0L576.0 439.3L575.0 448.9L574.0 448.3L573.0 434.6L572.0 432.2L571.0 439.7L570.0 440.9L569.0 447.7L568.0 444.0L567.0 440.9L566.0 440.7L565.0 445.2L564.0 438.1L563.0 439.5L562.0 441.6L561.0 433.6L560.0 438.3L559.0 440.1L558.0 439.4L557.0 436.7L556.0 431.3L555.0 431.2L554.0 431.3L553.0 440.1L552.0 434.3L551.0 433.8L550.0 442.0L549.0 441.5L548.0 434.7L547.0 440.1L546.0 433.3L545.0 430.5L544.0 436.0L543.0 435.8L542.0 496.1L541.0 434.4L540.0 434.3L539.0 439.3L538.0 437.5L537.0 431.3L536.0 432.0L535.0 433.8L534.0 437.8L533.0 436.0L532.0 430.0L531.0 429.5L530.0 435.5L529.0 436.8L528.0 434.5L527.0 437.1L526.0 437.2L525.0 433.2L524.0 433.1L523.0 433.7L522.0 430.4L521.0 431.8L520.0 429.4L519.0 438.7L518.0 430.4L517.0 439.2L516.0 436.6L515.0 440.2L514.0 436.4L513.0 440.0L512.0 435.3L511.0 430.5L510.0 435.3L509.0 443.3L508.0 439.3L507.0 445.2L506.0 441.8L505.0 438.5L504.0 435.6L503.0 442.6L502.0 439.2L501.0 443.2L500.0 438.9L499.0 432.2L498.0 439.4L497.0 445.9L496.0 449.5L495.0 444.6L494.0 443.8L493.0 438.4L492.0 433.2L491.0 435.9L490.0 436.2L489.0 433.6L488.0 436.4L487.0 442.1L486.0 437.1L485.0 439.6L484.0 443.2L483.0 473.9L482.0 444.9L481.0 444.3L480.0 445.9L479.0 435.1L478.0 436.5L477.0 443.3L476.0 444.4L475.0 439.5L474.0 445.2L473.0 435.1L472.0 437.2L471.0 433.7L470.0 450.0L469.0 449.5L468.0 449.2L467.0 444.4L466.0 438.9L465.0 439.2L464.0 435.9L463.0 443.5L462.0 451.3L461.0 442.6L460.0 445.2L459.0 440.1L458.0 435.5L457.0 445.9L456.0 433.9L455.0 440.9L454.0 441.7L453.0 445.7L452.0 439.0L451.0 443.6L450.0 436.8L449.0 438.6L448.0 440.3L447.0 441.9L446.0 437.4L445.0 433.5L444.0 438.6L443.0 440.2L442.0 438.9L441.0 443.5L440.0 438.5L439.0 437.1L438.0 439.8L437.0 434.0L436.0 441.1L435.0 434.0L434.0 436.3L433.0 432.0L432.0 440.7L431.0 438.2L430.0 436.7L429.0 439.4L428.0 446.0L427.0 449.1L426.0 440.3L425.0 437.4L424.0 441.7L423.0 443.0L422.0 451.2L421.0 444.1L420.0 440.5L419.0 443.4L418.0 438.7L417.0 438.2L416.0 434.8L415.0 437.7L414.0 435.8L413.0 435.6L412.0 434.4L411.0 435.7L410.0 446.9L409.0 451.2L408.0 434.0L407.0 437.3L406.0 440.2L405.0 435.0L404.0 433.7L403.0 443.7L402.0 445.2L401.0 441.6L400.0 442.0L399.0 441.1L398.0 442.3L397.0 443.2L396.0 447.3L395.0 459.2L394.0 444.6L393.0 441.7L392.0 439.7L391.0 438.2L390.0 443.1L389.0 435.9L388.0 433.8L387.0 438.0L386.0 437.8L385.0 433.8L384.0 438.7L383.0 453.2L382.0 436.3L381.0 433.4L380.0 443.0L379.0 445.3L378.0 443.5L377.0 442.5L376.0 439.5L375.0 441.0L374.0 440.0L373.0 443.9L372.0 435.8L371.0 442.7L370.0 445.8L369.0 436.1L368.0 436.1L367.0 435.6L366.0 435.3L365.0 439.1L364.0 443.4L363.0 437.1L362.0 438.2L361.0 441.3L360.0 438.0L359.0 439.7L358.0 441.1L357.0 445.5L356.0 441.3L355.0 438.9L354.0 439.9L353.0 440.4L352.0 440.7L351.0 433.4L350.0 435.3L349.0 436.6L348.0 437.7L347.0 431.8L346.0 435.1L345.0 437.8L344.0 433.4L343.0 433.8L342.0 436.6L341.0 455.2L340.0 443.5L339.0 448.1L338.0 436.9L337.0 435.9L336.0 446.1L335.0 447.0L334.0 439.9L333.0 446.7L332.0 435.9L331.0 439.2L330.0 446.5L329.0 448.6L328.0 450.2L327.0 445.7L326.0 447.1L325.0 447.7L324.0 442.7L323.0 435.0L322.0 440.5L321.0 453.2L320.0 445.6L319.0 441.0L318.0 440.6L317.0 447.0L316.0 441.5L315.0 451.6L314.0 456.4L313.0 463.8L312.0 449.5L311.0 438.7L310.0 448.0L309.0 443.7L308.0 445.2L307.0 449.5L306.0 462.2L305.0 445.4L304.0 451.6L303.0 448.4L302.0 441.6L301.0 451.7L300.0 446.0L299.0 445.2L298.0 444.7L297.0 446.7L296.0 446.6L295.0 478.2L294.0 448.1L293.0 472.2L292.0 443.8L291.0 439.4L290.0 445.3L289.0 448.5L288.0 457.3L287.0 448.2L286.0 449.2L285.0 445.6L284.0 449.0L283.0 445.8L282.0 454.0L281.0 471.2L280.0 458.1L279.0 451.1L278.0 460.5L277.0 450.3L276.0 440.9L275.0 446.6L274.0 458.6L273.0 450.9L272.0 444.8L271.0 436.8L270.0 444.3L269.0 474.8L268.0 448.9L267.0 446.9L266.0 450.4L265.0 448.9L264.0 453.9L263.0 449.4L262.0 448.6L261.0 449.2L260.0 447.9L259.0 441.4L258.0 439.3L257.0 446.2L256.0 434.4L255.0 434.1L254.0 444.6L253.0 442.8L252.0 451.2L251.0 438.3L250.0 438.5L249.0 439.4L248.0 442.4L247.0 448.6L246.0 434.7L245.0 431.8L244.0 434.9L243.0 435.9L242.0 436.3L241.0 431.0L240.0 435.6L239.0 450.2L238.0 438.5L237.0 432.1L236.0 436.8L235.0 439.1L234.0 434.9L233.0 440.6L232.0 438.3L231.0 437.7L230.0 434.5L229.0 442.9L228.0 435.7L227.0 438.0L226.0 440.1L225.0 434.8L224.0 438.8L223.0 444.1L222.0 439.0L221.0 442.6L220.0 441.0L219.0 450.5L218.0 444.1L217.0 443.4L216.0 445.0L215.0 446.2L214.0 440.9L213.0 450.5L212.0 451.2L211.0 447.2L210.0 442.1L209.0 439.0L208.0 444.7L207.0 441.7L206.0 448.5L205.0 438.8L204.0 440.1Z" fill="#0000ff" stroke="#0000ff" stroke-width="1.5" stroke-linejoin="round"/>
<path d="M204.0 628.7L205.0 641.2L206.0 632.5L207.0 628.6L208.0 627.9L209.0 629.6L210.0 625.7L211.0 631.2L212.0 635.7L213.0 631.6L214.0 631.9L215.0 633.9L216.0 634.8L217.0 630.5L218.0 630.7L219.0 635.9L220.0 637.6L221.0 640.7L222.0 628.5L223.0 632.3L224.0 627.8L225.0 629.0L226.0 623.3L227.0 624.8L228.0 629.4L229.0 627.4L230.0 635.2L231.0 615.8L232.0 638.4L233.0 631.9L234.0 627.6L235.0 631.3L236.0 635.1L237.0 637.2L238.0 634.1L239.0 627.2L240.0 627.6L241.0 634.0L242.0 637.9L243.0 631.6L244.0 639.0L245.0 627.8L246.0 635.4L247.0 628.8L248.0 623.1L249.0 629.0L250.0 630.6L251.0 634.2L252.0 628.2L253.0 624.0L254.0 629.0L255.0 628.3L256.0 630.2L257.0 625.4L258.0 625.8L259.0 625.5L260.0 626.6L261.0 622.4L262.0 631.2L263.0 633.3L264.0 627.6L265.0 628.6L266.0 611.8L267.0 633.6L268.0 625.9L269.0 622.7L270.0 628.6L271.0 638.7L272.0 638.7L273.0 637.8L274.0 637.8L275.0 631.2L276.0 620.5L277.0 630.0L278.0 633.0L279.0 626.2L280.0 628.0L281.0 620.6L282.0 632.9L283.0 629.7L284.0 629.1L285.0 638.4L286.0 638.5L287.0 624.5L288.0 624.5L289.0 632.6L290.0 635.9L291.0 633.1L292.0 636.7L293.0 631.2L294.0 621.3L295.0 594.1L296.0 623.9L297.0 629.6L298.0 626.9L299.0 623.9L300.0 636.1L301.0 633.6L302.0 631.2L303.0 627.4L304.0 621.3L305.0 626.8L306.0 607.8L307.0 634.4L308.0 636.4L309.0 634.2L310.0 603.8L311.0 633.8L312.0 631.3L313.0 633.3L314.0 626.8L315.0 627.7L316.0 630.0L317.0 630.1L318.0 626.3L319.0 635.3L320.0 636.8L321.0 636.1L322.0 625.9L323.0 632.4L324.0 637.2L325.0 632.0L326.0 619.5L327.0 628.6L328.0 626.9L329.0 627.1L330.0 631.9L331.0 635.4L332.0 634.3L333.0 635.9L334.0 639.8L335.0 620.5L336.0 624.7L337.0 630.6L338.0 633.6L339.0 635.1L340.0 628.4L341.0 631.6L342.0 630.0L343.0 638.0L344.0 629.8L345.0 622.7L346.0 631.0L347.0 628.8L348.0 630.5L349.0 626.2L350.0 626.4L351.0 631.8L352.0 634.8L353.0 631.7L354.0 632.7L355.0 635.0L356.0 630.6L357.0 631.0L358.0 636.4L359.0 631.2L360.0 618.3L361.0 626.0L362.0 629.1L363.0 621.2L364.0 634.7L365.0 640.4L366.0 640.4L367.0 640.4L368.0 632.0L369.0 629.9L370.0 640.4L371.0 630.7L372.0 631.1L373.0 632.2L374.0 629.9L375.0 630.3L376.0 632.1L377.0 633.0L378.0 637.6L379.0 631.6L380.0 626.8L381.0 625.2L382.0 618.9L383.0 617.5L384.0 626.9L385.0 624.3L386.0 631.4L387.0 640.5L388.0 640.5L389.0 628.5L390.0 628.3L391.0 628.8L392.0 633.3L393.0 629.9L394.0 623.6L395.0 630.7L396.0 638.2L397.0 634.7L398.0 628.0L399.0 637.6L400.0 640.6L401.0 640.6L402.0 640.5L403.0 629.2L404.0 632.6L405.0 637.6L406.0 630.0L407.0 634.9L408.0 634.4L409.0 636.0L410.0 620.8L411.0 635.1L412.0 627.7L413.0 640.6L414.0 635.6L415.0 629.6L416.0 631.0L417.0 632.1L418.0 628.0L419.0 630.1L420.0 630.7L421.0 629.6L422.0 637.6L423.0 630.1L424.0 632.8L425.0 630.0L426.0 624.5L427.0 624.6L428.0 624.9L429.0 640.6L430.0 638.5L431.0 630.4L432.0 637.4L433.0 633.2L434.0 624.4L435.0 628.2L436.0 636.1L437.0 631.1L438.0 629.4L439.0 632.0L440.0 633.1L441.0 633.6L442.0 639.5L443.0 634.5L444.0 636.8L445.0 631.4L446.0 614.2L447.0 635.9L448.0 630.4L449.0 630.5L450.0 631.9L451.0 629.6L452.0 633.7L453.0 634.2L454.0 632.6L455.0 631.8L456.0 629.6L457.0 640.4L458.0 618.2L459.0 640.3L460.0 636.7L461.0 632.0L462.0 631.6L463.0 627.9L464.0 632.9L465.0 640.3L466.0 639.1L467.0 625.0L468.0 623.9L469.0 632.3L470.0 638.0L471.0 626.0L472.0 640.2L473.0 633.4L474.0 632.5L475.0 630.0L476.0 638.6L477.0 635.0L478.0 628.9L479.0 635.7L480.0 640.1L481.0 634.6L482.0 633.1L483.0 634.7L484.0 606.2L485.0 631.9L486.0 634.8L487.0 633.0L488.0 633.8L489.0 633.6L490.0 633.9L491.0 640.8L492.0 638.5L493.0 631.8L494.0 629.2L495.0 631.6L496.0 632.5L497.0 629.9L498.0 627.7L499.0 625.2L500.0 631.1L501.0 635.9L502.0 634.4L503.0 641.2L504.0 636.2L505.0 636.3L506.0 634.5L507.0 615.8L508.0 629.1L509.0 641.0L510.0 638.0L511.0 638.4L512.0 635.2L513.0 634.1L514.0 636.8L515.0 631.5L516.0 629.1L517.0 628.3L518.0 633.5L519.0 641.0L520.0 637.8L521.0 630.7L522.0 641.9L523.0 630.9L524.0 638.5L525.0 623.8L526.0 630.5L527.0 637.0L528.0 634.2L529.0 642.2L530.0 634.2L531.0 632.7L532.0 632.2L533.0 642.3L534.0 636.6L535.0 638.0L536.0 642.3L537.0 623.8L538.0 636.1L539.0 632.7L540.0 635.0L541.0 624.8L542.0 634.8L543.0 636.6L544.0 639.4L545.0 640.4L546.0 631.3L547.0 634.0L548.0 629.3L549.0 635.2L550.0 630.1L551.0 632.7L552.0 632.1L553.0 638.4L554.0 640.5L555.0 637.4L556.0 633.0L557.0 634.4L558.0 633.1L559.0 633.8L560.0 632.1L561.0 635.3L562.0 637.9L563.0 634.8L564.0 634.4L565.0 630.0L566.0 635.7L567.0 636.5L568.0 636.7L569.0 631.8L570.0 632.0L571.0 634.5L572.0 641.9L573.0 642.8L574.0 634.7L575.0 632.7L576.0 632.0L577.0 642.4L578.0 640.0L579.0 642.9L580.0 641.8L581.0 637.6L582.0 633.9L583.0 638.6L584.0 621.5L585.0 637.1L586.0 630.8L587.0 628.2L588.0 641.0L589.0 639.4L590.0 637.9L591.0 632.7L592.0 633.4L593.0 630.3L594.0 639.4L595.0 637.9L596.0 639.0L597.0 641.3L598.0 639.0L599.0 639.6L600.0 629.1L601.0 634.2L602.0 640.5L603.0 638.2L604.0 630.8L605.0 636.4L606.0 633.7L607.0 632.8L608.0 631.2L609.0 633.2L610.0 637.0L611.0 640.0L612.0 642.5L613.0 637.6L614.0 635.8L615.0 637.4L616.0 637.8L617.0 639.1L618.0 628.8L619.0 636.9L620.0 640.7L621.0 639.1L622.0 636.3L623.0 634.8L624.0 642.2L625.0 620.8L626.0 637.8L627.0 635.9L628.0 631.0L629.0 632.1L630.0 637.6L631.0 634.8L632.0 626.8L633.0 627.6L634.0 630.6L635.0 633.7L636.0 630.9L637.0 633.2L638.0 637.8L639.0 639.2L640.0 615.8L641.0 632.1L642.0 630.2L643.0 631.4L644.0 630.1L645.0 634.5L646.0 630.0L647.0 628.5L648.0 637.9L649.0 621.8L650.0 636.8L651.0 635.8L652.0 632.4L653.0 638.6L654.0 638.5L655.0 635.2L656.0 626.6L657.0 628.0L658.0 637.0L659.0 637.0L660.0 635.2L661.0 638.3L662.0 637.5L663.0 637.9L664.0 640.6L665.0 639.5L666.0 638.1L667.0 636.3L668.0 638.8L669.0 637.3L670.0 640.4L671.0 640.8L672.0 638.0L673.0 623.4L674.0 627.2L675.0 629.5L676.0 632.3L677.0 636.5L678.0 636.0L679.0 634.8L680.0 634.0L681.0 632.6L682.0 632.4L683.0 642.7L684.0 640.3L685.0 634.7L686.0 635.5L687.0 636.3L688.0 631.0L689.0 633.5L690.0 630.0L691.0 635.4L692.0 636.7L693.0 642.0L694.0 642.9L695.0 639.7L696.0 637.1L697.0 639.0L698.0 641.5L699.0 635.3L700.0 636.0L701.0 637.3L702.0 638.4L703.0 630.2L704.0 624.8L705.0 634.6L706.0 636.8L707.0 634.7L708.0 628.2L709.0 625.1L710.0 635.0L711.0 639.0L712.0 641.7L713.0 627.3L714.0 638.1L715.0 634.0L716.0 633.3L717.0 632.1L718.0 640.2L719.0 642.9L720.0 637.1L721.0 634.3L722.0 633.5L723.0 642.5L724.0 639.7L724.0 668.1L723.0 673.0L722.0 664.3L721.0 663.4L720.0 666.6L719.0 664.2L718.0 662.2L717.0 664.9L716.0 673.9L715.0 671.8L714.0 667.5L713.0 670.5L712.0 671.9L711.0 673.7L710.0 673.9L709.0 668.3L708.0 671.2L707.0 669.0L706.0 666.8L705.0 670.3L704.0 671.4L703.0 666.5L702.0 671.6L701.0 669.2L700.0 664.5L699.0 667.9L698.0 668.0L697.0 666.3L696.0 667.5L695.0 672.5L694.0 674.9L693.0 678.9L692.0 678.0L691.0 672.5L690.0 671.4L689.0 667.7L688.0 668.2L687.0 668.7L686.0 676.9L685.0 671.3L684.0 668.8L683.0 671.4L682.0 676.1L681.0 677.3L680.0 680.2L679.0 677.5L678.0 674.8L677.0 665.1L676.0 675.5L675.0 669.9L674.0 677.5L673.0 683.9L672.0 676.9L671.0 666.8L670.0 665.0L669.0 670.5L668.0 677.2L667.0 665.3L666.0 668.7L665.0 678.0L664.0 676.9L663.0 668.5L662.0 685.6L661.0 686.4L660.0 679.9L659.0 673.5L658.0 679.7L657.0 683.8L656.0 675.2L655.0 670.1L654.0 672.2L653.0 677.4L652.0 679.8L651.0 673.6L650.0 680.5L649.0 688.2L648.0 679.0L647.0 681.9L646.0 679.5L645.0 675.3L644.0 668.3L643.0 679.6L642.0 678.0L641.0 671.9L640.0 696.2L639.0 675.3L638.0 676.6L637.0 669.9L636.0 678.8L635.0 674.3L634.0 686.7L633.0 679.4L632.0 682.4L631.0 677.4L630.0 676.5L629.0 677.6L628.0 679.5L627.0 674.0L626.0 677.7L625.0 685.2L624.0 675.3L623.0 676.7L622.0 677.3L621.0 678.9L620.0 678.1L619.0 676.4L618.0 679.1L617.0 668.8L616.0 665.9L615.0 666.7L614.0 675.7L613.0 675.0L612.0 688.2L611.0 668.8L610.0 667.5L609.0 674.6L608.0 665.0L607.0 664.9L606.0 670.0L605.0 672.9L604.0 676.1L603.0 677.1L602.0 674.5L601.0 670.1L600.0 683.5L599.0 672.8L598.0 673.9L597.0 666.7L596.0 673.9L595.0 675.6L594.0 669.8L593.0 669.2L592.0 666.5L591.0 664.0L590.0 665.9L589.0 668.4L588.0 670.2L587.0 664.8L586.0 662.7L585.0 667.8L584.0 685.2L583.0 667.6L582.0 680.9L581.0 678.3L580.0 676.0L579.0 675.7L578.0 672.9L577.0 676.3L576.0 675.6L575.0 664.9L574.0 662.5L573.0 667.2L572.0 663.8L571.0 670.1L570.0 671.3L569.0 666.3L568.0 666.6L567.0 669.5L566.0 667.0L565.0 671.1L564.0 669.2L563.0 667.6L562.0 664.1L561.0 664.2L560.0 666.2L559.0 671.2L558.0 667.7L557.0 675.7L556.0 668.0L555.0 666.1L554.0 671.0L553.0 671.0L552.0 665.8L551.0 668.0L550.0 671.3L549.0 663.8L548.0 664.4L547.0 671.8L546.0 676.4L545.0 679.1L544.0 664.7L543.0 766.2L542.0 666.7L541.0 665.9L540.0 674.0L539.0 674.3L538.0 670.9L537.0 664.3L536.0 663.8L535.0 670.3L534.0 665.6L533.0 665.5L532.0 671.2L531.0 675.0L530.0 669.1L529.0 667.5L528.0 672.8L527.0 669.1L526.0 670.7L525.0 670.8L524.0 672.1L523.0 663.0L522.0 661.9L521.0 662.5L520.0 673.2L519.0 671.6L518.0 667.8L517.0 666.0L516.0 672.1L515.0 666.0L514.0 665.7L513.0 666.0L512.0 665.4L511.0 662.5L510.0 670.1L509.0 669.9L508.0 668.1L507.0 675.3L506.0 672.9L505.0 668.4L504.0 673.1L503.0 669.1L502.0 670.1L501.0 673.7L500.0 669.9L499.0 672.4L498.0 676.0L497.0 676.0L496.0 673.5L495.0 679.1L494.0 677.8L493.0 669.2L492.0 663.4L491.0 664.2L490.0 671.1L489.0 668.8L488.0 674.3L487.0 670.2L486.0 664.6L485.0 668.1L484.0 707.2L483.0 674.5L482.0 677.5L481.0 669.0L480.0 686.0L479.0 677.7L478.0 678.4L477.0 667.8L476.0 672.0L475.0 672.0L474.0 678.5L473.0 671.5L472.0 674.7L471.0 671.7L470.0 667.6L469.0 669.0L468.0 672.9L467.0 674.0L466.0 677.3L465.0 677.5L464.0 678.2L463.0 668.8L462.0 676.0L461.0 678.2L460.0 672.7L459.0 677.5L458.0 671.6L457.0 667.0L456.0 669.3L455.0 665.2L454.0 664.0L453.0 709.2L452.0 676.1L451.0 673.3L450.0 671.4L449.0 676.5L448.0 673.8L447.0 677.6L446.0 679.9L445.0 691.2L444.0 671.5L443.0 675.1L442.0 676.7L441.0 673.7L440.0 668.0L439.0 667.2L438.0 669.1L437.0 677.0L436.0 676.9L435.0 671.7L434.0 671.3L433.0 668.2L432.0 679.0L431.0 685.3L430.0 672.4L429.0 674.8L428.0 668.1L427.0 670.9L426.0 670.1L425.0 672.5L424.0 671.6L423.0 669.8L422.0 665.9L421.0 670.5L420.0 672.4L419.0 673.8L418.0 670.3L417.0 677.9L416.0 666.3L415.0 668.7L414.0 669.5L413.0 676.3L412.0 676.5L411.0 688.2L410.0 675.9L409.0 673.6L408.0 672.9L407.0 679.6L406.0 674.4L405.0 666.7L404.0 669.9L403.0 665.2L402.0 672.3L401.0 679.3L400.0 676.2L399.0 673.7L398.0 674.3L397.0 672.8L396.0 694.6L395.0 665.7L394.0 679.3L393.0 677.0L392.0 682.1L391.0 675.7L390.0 672.6L389.0 668.3L388.0 669.2L387.0 665.2L386.0 676.5L385.0 681.4L384.0 673.8L383.0 670.8L382.0 673.8L381.0 679.2L380.0 674.0L379.0 672.9L378.0 669.5L377.0 667.9L376.0 676.4L375.0 665.9L374.0 666.2L373.0 666.0L372.0 666.1L371.0 666.5L370.0 670.8L369.0 673.2L368.0 672.8L367.0 679.7L366.0 669.8L365.0 671.1L364.0 666.5L363.0 668.6L362.0 666.7L361.0 671.1L360.0 676.0L359.0 677.6L358.0 680.5L357.0 673.1L356.0 674.6L355.0 674.8L354.0 680.9L353.0 677.5L352.0 677.6L351.0 676.2L350.0 676.4L349.0 682.8L348.0 683.1L347.0 682.6L346.0 676.4L345.0 667.3L344.0 671.8L343.0 667.3L342.0 670.8L341.0 692.3L340.0 688.4L339.0 695.6L338.0 685.3L337.0 672.8L336.0 674.3L335.0 674.7L334.0 669.1L333.0 671.6L332.0 667.3L331.0 669.4L330.0 675.5L329.0 678.6L328.0 673.8L327.0 670.5L326.0 676.0L325.0 673.5L324.0 689.2L323.0 679.2L322.0 678.7L321.0 669.0L320.0 672.1L319.0 682.8L318.0 679.8L317.0 684.0L316.0 692.2L315.0 689.1L314.0 677.3L313.0 678.2L312.0 681.5L311.0 679.6L310.0 673.9L309.0 667.2L308.0 668.7L307.0 670.9L306.0 675.2L305.0 672.9L304.0 681.4L303.0 680.5L302.0 680.3L301.0 667.2L300.0 669.7L299.0 676.5L298.0 683.9L297.0 683.0L296.0 678.9L295.0 697.2L294.0 674.9L293.0 671.1L292.0 674.8L291.0 673.3L290.0 670.3L289.0 670.2L288.0 677.3L287.0 671.9L286.0 667.1L285.0 670.5L284.0 677.1L283.0 678.0L282.0 692.2L281.0 673.7L280.0 684.3L279.0 678.4L278.0 680.4L277.0 679.0L276.0 675.0L275.0 672.7L274.0 683.9L273.0 682.7L272.0 668.6L271.0 669.9L270.0 695.2L269.0 679.7L268.0 679.3L267.0 670.4L266.0 689.5L265.0 678.9L264.0 676.5L263.0 672.3L262.0 673.7L261.0 666.8L260.0 668.1L259.0 666.7L258.0 669.1L257.0 699.2L256.0 680.5L255.0 679.6L254.0 670.7L253.0 682.4L252.0 681.9L251.0 675.2L250.0 677.5L249.0 666.6L248.0 669.9L247.0 666.5L246.0 686.9L245.0 678.8L244.0 675.9L243.0 670.2L242.0 676.5L241.0 672.1L240.0 674.0L239.0 683.5L238.0 689.2L237.0 681.0L236.0 675.1L235.0 666.3L234.0 666.3L233.0 678.7L232.0 666.3L231.0 673.3L230.0 672.9L229.0 673.8L228.0 677.1L227.0 683.2L226.0 680.6L225.0 678.4L224.0 678.0L223.0 671.1L222.0 666.1L221.0 675.2L220.0 676.7L219.0 686.2L218.0 680.2L217.0 668.4L216.0 673.3L215.0 671.5L214.0 670.2L213.0 668.0L212.0 679.0L211.0 676.6L210.0 691.2L209.0 677.7L208.0 671.9L207.0 674.1L206.0 667.6L205.0 681.3L204.0 681.1Z" fill="#0000ff" stroke="#0000ff" stroke-width="1.5" stroke-linejoin="round"/>
<text x="194.00" y="597.50" font-size="24.2" fill="#262626" text-anchor="end" textLength="33.87" lengthAdjust="spacingAndGlyphs">0.5</text>
<text x="194.00" y="660.50" font-size="24.2" fill="#262626" text-anchor="end" textLength="13.55" lengthAdjust="spacingAndGlyphs">0</text>
<text x="194.00" y="723.50" font-size="24.2" fill="#262626" text-anchor="end" textLength="41.56" lengthAdjust="spacingAndGlyphs">-0.5</text>
<text x="194.00" y="786.50" font-size="24.2" fill="#262626" text-anchor="end" textLength="21.24" lengthAdjust="spacingAndGlyphs">-1</text>
<text x="141.50" y="685.50" font-size="22.6" font-weight="bold" fill="#262626" text-anchor="middle" textLength="76.35" lengthAdjust="spacingAndGlyphs" transform="rotate(-90 141.50 685.50)">Z (nT)</text>
<path d="M895.50 253.5v-5.2M895.50 65.5v5.2M1026.75 253.5v-5.2M1026.75 65.5v5.2M1158.00 253.5v-5.2M1158.00 65.5v5.2M1289.25 253.5v-5.2M1289.25 65.5v5.2M1420.50 253.5v-5.2M1420.50 65.5v5.2M895.5 66.98h5.2M1420.5 66.98h-5.2M895.5 89.66h5.2M1420.5 89.66h-5.2M895.5 116.49h5.2M1420.5 116.49h-5.2M895.5 149.32h5.2M1420.5 149.32h-5.2M895.5 191.64h5.2M1420.5 191.64h-5.2M895.5 251.30h5.2M1420.5 251.30h-5.2" stroke="#262626" stroke-width="1" fill="none"/>
<rect x="895.5" y="65.5" width="525.0" height="188.0" fill="none" stroke="#262626" stroke-width="1"/>
<text x="866.40" y="74.98" font-size="24.2" fill="#262626" text-anchor="end" textLength="13.55" lengthAdjust="spacingAndGlyphs">7</text>
<text x="866.40" y="97.66" font-size="24.2" fill="#262626" text-anchor="end" textLength="13.55" lengthAdjust="spacingAndGlyphs">6</text>
<text x="866.40" y="124.49" font-size="24.2" fill="#262626" text-anchor="end" textLength="13.55" lengthAdjust="spacingAndGlyphs">5</text>
<text x="866.40" y="157.32" font-size="24.2" fill="#262626" text-anchor="end" textLength="13.55" lengthAdjust="spacingAndGlyphs">4</text>
<text x="866.40" y="199.64" font-size="24.2" fill="#262626" text-anchor="end" textLength="13.55" lengthAdjust="spacingAndGlyphs">3</text>
<text x="866.40" y="259.30" font-size="24.2" fill="#262626" text-anchor="end" textLength="13.55" lengthAdjust="spacingAndGlyphs">2</text>
<text x="895.50" y="281.50" font-size="24.2" fill="#262626" text-anchor="middle" textLength="63.53" lengthAdjust="spacingAndGlyphs">00:00</text>
<text x="1026.75" y="281.50" font-size="24.2" fill="#262626" text-anchor="middle" textLength="63.53" lengthAdjust="spacingAndGlyphs">06:00</text>
<text x="1158.00" y="281.50" font-size="24.2" fill="#262626" text-anchor="middle" textLength="63.53" lengthAdjust="spacingAndGlyphs">12:00</text>
<text x="1289.25" y="281.50" font-size="24.2" fill="#262626" text-anchor="middle" textLength="63.53" lengthAdjust="spacingAndGlyphs">18:00</text>
<text x="1420.50" y="281.50" font-size="24.2" fill="#262626" text-anchor="middle" textLength="63.53" lengthAdjust="spacingAndGlyphs">00:00</text>
<text x="842.80" y="161.30" font-size="22.6" font-weight="bold" fill="#262626" text-anchor="middle" textLength="136.49" lengthAdjust="spacingAndGlyphs" transform="rotate(-90 842.80 161.30)">freq (mHz)</text>
<path d="M895.50 516.5v-5.2M895.50 327.5v5.2M1026.75 516.5v-5.2M1026.75 327.5v5.2M1158.00 516.5v-5.2M1158.00 327.5v5.2M1289.25 516.5v-5.2M1289.25 327.5v5.2M1420.50 516.5v-5.2M1420.50 327.5v5.2M895.5 328.99h5.2M1420.5 328.99h-5.2M895.5 351.79h5.2M1420.5 351.79h-5.2M895.5 378.76h5.2M1420.5 378.76h-5.2M895.5 411.76h5.2M1420.5 411.76h-5.2M895.5 454.32h5.2M1420.5 454.32h-5.2M895.5 514.29h5.2M1420.5 514.29h-5.2" stroke="#262626" stroke-width="1" fill="none"/>
<rect x="895.5" y="327.5" width="525.0" height="189.0" fill="none" stroke="#262626" stroke-width="1"/>
<text x="866.40" y="336.99" font-size="24.2" fill="#262626" text-anchor="end" textLength="13.55" lengthAdjust="spacingAndGlyphs">7</text>
<text x="866.40" y="359.79" font-size="24.2" fill="#262626" text-anchor="end" textLength="13.55" lengthAdjust="spacingAndGlyphs">6</text>
<text x="866.40" y="386.76" font-size="24.2" fill="#262626" text-anchor="end" textLength="13.55" lengthAdjust="spacingAndGlyphs">5</text>
<text x="866.40" y="419.76" font-size="24.2" fill="#262626" text-anchor="end" textLength="13.55" lengthAdjust="spacingAndGlyphs">4</text>
<text x="866.40" y="462.32" font-size="24.2" fill="#262626" text-anchor="end" textLength="13.55" lengthAdjust="spacingAndGlyphs">3</text>
<text x="866.40" y="522.29" font-size="24.2" fill="#262626" text-anchor="end" textLength="13.55" lengthAdjust="spacingAndGlyphs">2</text>
<text x="895.50" y="544.50" font-size="24.2" fill="#262626" text-anchor="middle" textLength="63.53" lengthAdjust="spacingAndGlyphs">00:00</text>
<text x="1026.75" y="544.50" font-size="24.2" fill="#262626" text-anchor="middle" textLength="63.53" lengthAdjust="spacingAndGlyphs">06:00</text>
<text x="1158.00" y="544.50" font-size="24.2" fill="#262626" text-anchor="middle" textLength="63.53" lengthAdjust="spacingAndGlyphs">12:00</text>
<text x="1289.25" y="544.50" font-size="24.2" fill="#262626" text-anchor="middle" textLength="63.53" lengthAdjust="spacingAndGlyphs">18:00</text>
<text x="1420.50" y="544.50" font-size="24.2" fill="#262626" text-anchor="middle" textLength="63.53" lengthAdjust="spacingAndGlyphs">00:00</text>
<text x="842.80" y="423.80" font-size="22.6" font-weight="bold" fill="#262626" text-anchor="middle" textLength="136.49" lengthAdjust="spacingAndGlyphs" transform="rotate(-90 842.80 423.80)">freq (mHz)</text>
<path d="M895.50 778.5v-5.2M895.50 589.5v5.2M1026.75 778.5v-5.2M1026.75 589.5v5.2M1158.00 778.5v-5.2M1158.00 589.5v5.2M1289.25 778.5v-5.2M1289.25 589.5v5.2M1420.50 778.5v-5.2M1420.50 589.5v5.2M895.5 590.99h5.2M1420.5 590.99h-5.2M895.5 613.79h5.2M1420.5 613.79h-5.2M895.5 640.76h5.2M1420.5 640.76h-5.2M895.5 673.76h5.2M1420.5 673.76h-5.2M895.5 716.32h5.2M1420.5 716.32h-5.2M895.5 776.29h5.2M1420.5 776.29h-5.2" stroke="#262626" stroke-width="1" fill="none"/>
<rect x="895.5" y="589.5" width="525.0" height="189.0" fill="none" stroke="#262626" stroke-width="1"/>
<text x="866.40" y="598.99" font-size="24.2" fill="#262626" text-anchor="end" textLength="13.55" lengthAdjust="spacingAndGlyphs">7</text>
<text x="866.40" y="621.79" font-size="24.2" fill="#262626" text-anchor="end" textLength="13.55" lengthAdjust="spacingAndGlyphs">6</text>
<text x="866.40" y="648.76" font-size="24.2" fill="#262626" text-anchor="end" textLength="13.55" lengthAdjust="spacingAndGlyphs">5</text>
<text x="866.40" y="681.76" font-size="24.2" fill="#262626" text-anchor="end" textLength="13.55" lengthAdjust="spacingAndGlyphs">4</text>
<text x="866.40" y="724.32" font-size="24.2" fill="#262626" text-anchor="end" textLength="13.55" lengthAdjust="spacingAndGlyphs">3</text>
<text x="866.40" y="784.29" font-size="24.2" fill="#262626" text-anchor="end" textLength="13.55" lengthAdjust="spacingAndGlyphs">2</text>
<text x="842.80" y="685.80" font-size="22.6" font-weight="bold" fill="#262626" text-anchor="middle" textLength="136.49" lengthAdjust="spacingAndGlyphs" transform="rotate(-90 842.80 685.80)">freq (mHz)</text>
<text x="830.50" y="26.00" font-size="23.3" font-weight="bold" fill="#000" text-anchor="middle" textLength="552.98" lengthAdjust="spacingAndGlyphs">FINOKALIA Wavelet Spectra on 11 June 2020</text>
<text x="464.00" y="54.00" font-size="23.3" font-weight="bold" fill="#000" text-anchor="middle" textLength="423.28" lengthAdjust="spacingAndGlyphs">Filtered Series (cutoff at 2.5 mHz)</text>
<text x="1158.00" y="54.00" font-size="23.3" font-weight="bold" fill="#000" text-anchor="middle" textLength="237.69" lengthAdjust="spacingAndGlyphs">Pc5 Wavelet Power</text>
</svg>
</body></html>
